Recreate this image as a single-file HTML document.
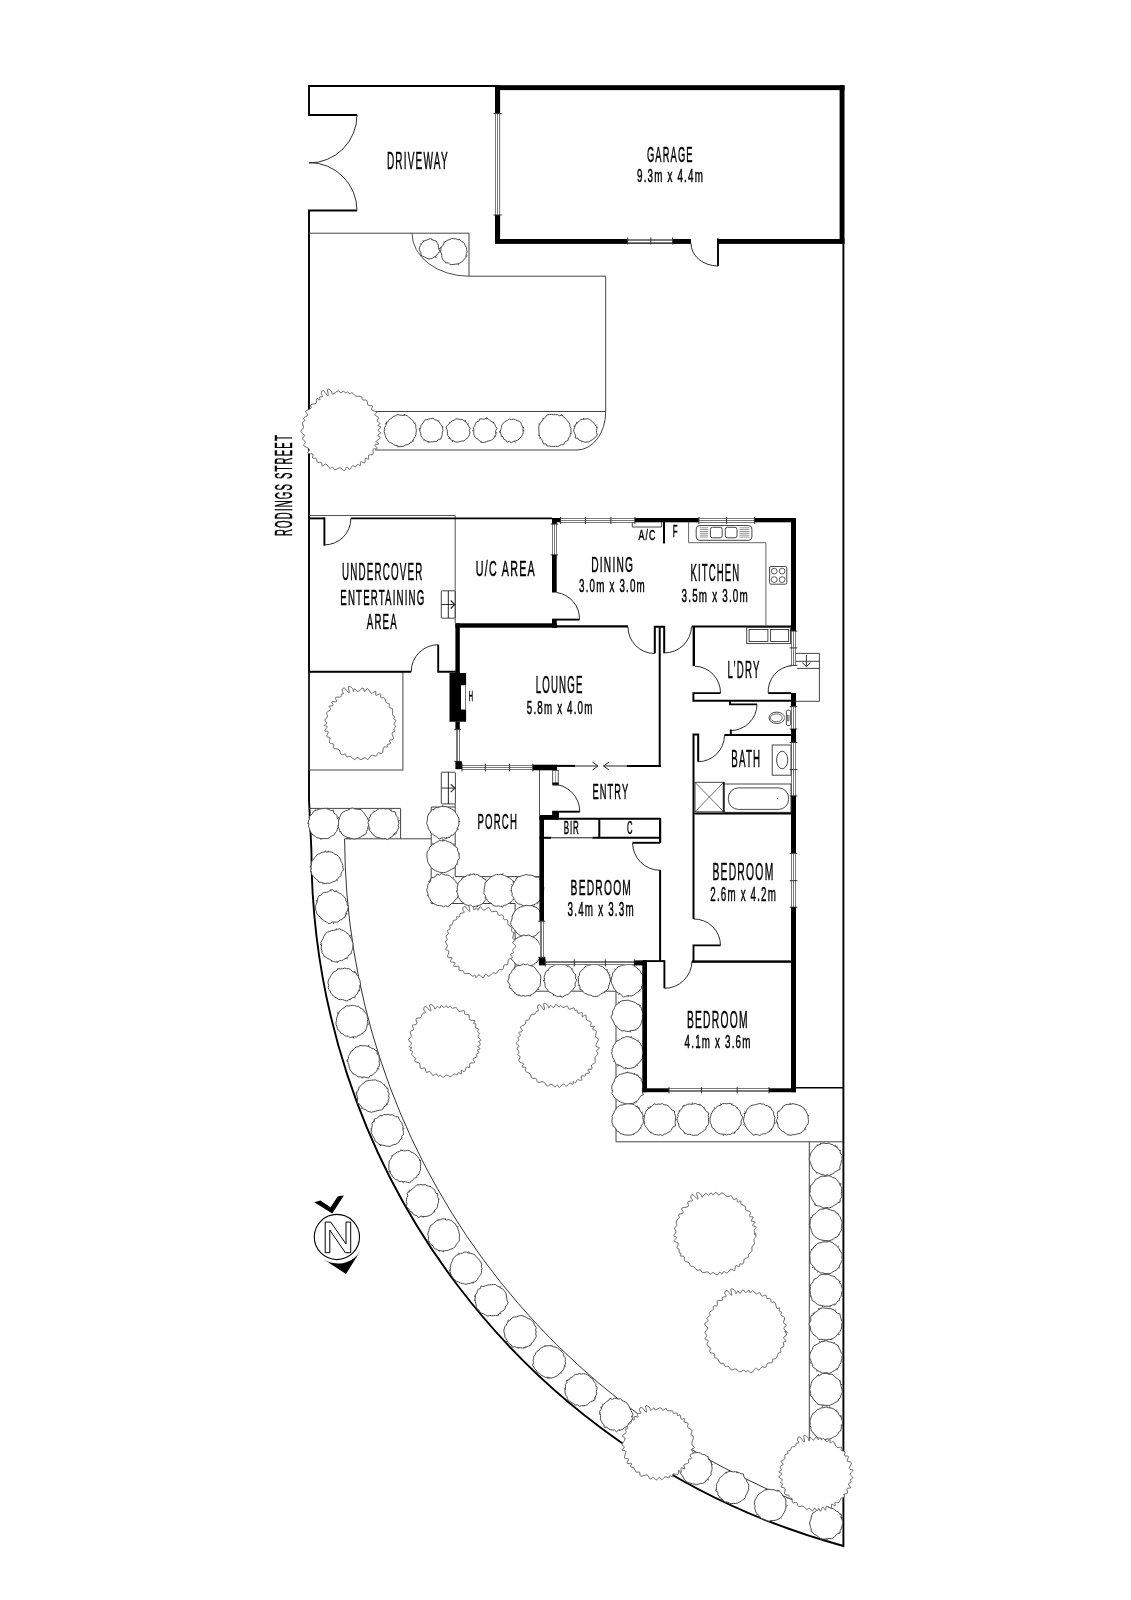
<!DOCTYPE html>
<html><head><meta charset="utf-8"><style>
html,body{margin:0;padding:0;background:#fff;width:1131px;height:1600px;overflow:hidden}
svg{display:block;will-change:transform}
text{font-family:"Liberation Sans",sans-serif;fill:#000;stroke:#000;stroke-width:0.5px}
</style></head><body>
<svg width="1131" height="1600" viewBox="0 0 1131 1600">
<rect width="1131" height="1600" fill="#fff"/>
<line x1="308.00" y1="85.90" x2="495.00" y2="85.90" stroke="#000" stroke-width="2.0" stroke-linecap="butt"/>
<path d="M309,85 L309,115 L357,115" stroke="#000" stroke-width="1.9" fill="none" />
<path d="M357,210.5 L309,210.5 L309,800 L311.4,850 A721.1,721.1 0 0 0 843.4,1546 L843.4,243" stroke="#000" stroke-width="1.9" fill="none" />
<path d="M357.00,115.00 A48.00,48.00 0 0 1 309.00,163.00" stroke="#222" stroke-width="0.95" fill="none" />
<path d="M309.00,162.50 A48.00,48.00 0 0 1 357.00,210.50" stroke="#222" stroke-width="0.95" fill="none" />
<path d="M309,233.2 L469,233.2 L469,276.2 L605.7,276.2 L605.7,412 A28.7,38 0 0 1 577,450 L375,450" stroke="#444" stroke-width="1.0" fill="none" />
<line x1="375.00" y1="411.50" x2="605.70" y2="411.50" stroke="#444" stroke-width="1.0" stroke-linecap="butt"/>
<path d="M412.00,233.20 A57.00,43.00 0 0 0 469.00,276.20" stroke="#444" stroke-width="0.95" fill="none" />
<path d="M344.6,838.8 A715.4,715.4 0 0 0 843,1518" stroke="#333" stroke-width="1.0" fill="none" />
<rect x="309.00" y="671.70" width="93.90" height="98.30" fill="none" stroke="#444" stroke-width="1.0" rx="0"/>
<path d="M309,808.4 L400.6,808.4 L400.6,838.8 L344.6,838.8" stroke="#444" stroke-width="1.0" fill="none" />
<line x1="400.60" y1="838.80" x2="431.20" y2="838.80" stroke="#444" stroke-width="1.0" stroke-linecap="butt"/>
<path d="M431.2,807 L455.2,807" stroke="#444" stroke-width="1.0" fill="none" />
<path d="M431.2,807 L431.2,903.5 L515.1,903.5 L515.1,991.2 L616,991.2 L616,1141.8 L843,1141.8" stroke="#444" stroke-width="1.0" fill="none" />
<path d="M455.2,803.8 L455.2,876.6 L539.5,876.6" stroke="#444" stroke-width="1.0" fill="none" />
<line x1="795.00" y1="1087.80" x2="843.50" y2="1087.80" stroke="#000" stroke-width="1.6" stroke-linecap="butt"/>
<line x1="809.30" y1="1141.80" x2="809.30" y2="1460.00" stroke="#444" stroke-width="1.0" stroke-linecap="butt"/>
<line x1="309.00" y1="515.50" x2="455.20" y2="515.50" stroke="#555" stroke-width="1.0" stroke-linecap="butt"/>
<line x1="455.20" y1="515.50" x2="455.20" y2="623.00" stroke="#555" stroke-width="1.0" stroke-linecap="butt"/>
<line x1="539.50" y1="770.00" x2="539.50" y2="815.00" stroke="#555" stroke-width="1.0" stroke-linecap="butt"/>
<path d="M439.0,249.2 L439.7,251.4 L438.2,253.2 L437.1,254.9 L435.5,256.2 L433.9,257.4 L432.2,258.3 L430.2,258.8 L428.2,258.9 L426.4,258.0 L424.7,257.0 L422.7,256.4 L421.0,255.1 L420.9,252.9 L420.1,251.1 L419.2,249.2 L419.5,247.1 L420.7,245.4 L421.5,243.6 L423.0,242.3 L424.3,240.7 L426.3,240.2 L428.2,239.4 L430.3,238.5 L432.3,239.7 L434.2,240.5 L436.5,241.1 L437.2,243.4 L438.4,245.1 L438.4,247.2Z M438.5,248.9 L440.0,248.4 M434.9,256.6 L435.9,257.7 M424.1,241.4 L422.8,240.5 M421.2,244.4 L420.0,243.6 M432.0,240.3 L431.9,238.7 M435.1,256.4 L436.0,257.6" stroke="#4a4a4a" stroke-width="1.0" fill="#fff" />
<path d="M467.1,251.6 L466.4,253.6 L466.1,255.6 L465.8,257.6 L464.3,259.2 L463.1,260.8 L461.4,262.0 L459.8,263.1 L457.9,263.9 L455.9,264.1 L453.9,264.4 L451.8,264.6 L449.8,264.2 L448.2,262.8 L445.7,263.0 L444.4,261.1 L442.8,259.7 L441.9,257.7 L441.8,255.5 L441.4,253.6 L440.6,251.6 L440.9,249.5 L440.7,247.3 L442.7,245.9 L443.5,244.0 L444.4,242.1 L446.3,241.1 L448.0,240.0 L450.0,239.6 L451.8,238.3 L453.9,238.8 L455.9,238.8 L457.8,239.7 L460.0,239.7 L461.3,241.5 L463.3,242.2 L464.6,243.8 L465.2,245.8 L466.6,247.5 L466.6,249.6Z M444.8,242.7 L443.6,241.8 M465.7,256.2 L467.4,255.9 M441.2,251.4 L439.7,252.4 M459.0,239.9 L459.7,238.7 M458.0,263.6 L458.3,265.1 M441.8,247.7 L440.3,247.6" stroke="#4a4a4a" stroke-width="1.0" fill="#fff" />
<path d="M378.2,430.5 C378.2,431.6 380.8,431.8 380.7,432.8 C380.6,433.7 377.9,434.2 377.8,435.2 C377.7,436.2 380.5,436.6 380.2,437.8 C379.9,439.0 376.5,440.2 376.2,441.4 C376.0,442.6 379.1,443.2 378.8,443.9 C378.5,444.6 375.2,443.9 374.8,444.8 C374.5,445.7 377.4,447.6 377.1,448.5 C376.7,449.4 374.1,448.1 373.2,449.3 C372.4,450.4 373.8,453.0 372.9,454.2 C372.0,455.4 369.5,454.2 368.7,455.2 C367.9,456.2 369.3,458.6 368.7,459.2 C368.0,459.8 366.3,457.5 365.5,458.2 C364.7,458.9 365.6,462.0 364.7,462.8 C363.7,463.5 361.6,461.2 360.7,461.8 C359.9,462.3 361.0,465.0 360.4,465.5 C359.8,466.1 358.7,464.1 357.7,464.5 C356.6,464.8 356.1,466.8 355.1,467.1 C354.1,467.3 353.8,465.1 352.7,465.6 C351.6,466.1 350.8,469.3 349.7,469.5 C348.5,469.8 348.1,466.6 347.0,466.8 C345.9,467.0 345.5,470.4 344.2,470.6 C342.8,470.8 342.0,468.0 340.2,467.8 C338.3,467.7 336.4,469.8 334.9,469.7 C333.4,469.6 333.9,467.7 332.8,467.3 C331.8,467.0 331.1,468.8 329.7,468.1 C328.3,467.4 327.4,464.4 325.9,464.0 C324.4,463.6 323.2,466.4 322.3,466.1 C321.4,465.8 322.4,463.3 321.4,462.5 C320.5,461.7 318.5,463.0 317.5,462.2 C316.4,461.4 317.2,459.4 316.2,458.5 C315.2,457.7 313.2,458.8 312.6,458.0 C311.9,457.1 313.8,455.2 312.9,454.2 C311.9,453.3 308.6,454.3 307.9,453.3 C307.2,452.3 310.0,450.7 309.2,449.1 C308.4,447.6 304.6,446.9 303.8,445.5 C303.0,444.1 305.5,443.7 305.2,442.3 C305.0,440.9 302.6,439.7 302.5,438.4 C302.3,437.0 304.9,436.9 304.5,435.5 C304.2,434.2 301.0,433.0 300.8,431.4 C300.6,429.8 303.2,429.3 303.5,427.5 C303.8,425.8 302.1,424.2 302.4,422.8 C302.6,421.4 304.6,421.6 304.8,420.7 C305.0,419.7 302.9,419.2 303.5,418.1 C304.1,417.0 307.3,416.5 307.7,415.1 C308.1,413.7 305.0,412.5 305.7,411.1 C306.3,409.8 309.9,409.6 310.9,408.3 C312.0,407.0 309.8,405.8 310.9,404.8 C311.9,403.7 315.0,404.4 316.1,403.2 C317.3,401.9 316.0,399.3 316.8,398.6 C317.5,398.0 319.4,400.3 319.9,399.9 C320.5,399.6 319.0,397.6 319.5,397.0 C320.0,396.3 322.2,397.3 322.6,396.7 C322.9,396.1 321.6,395.0 321.4,393.9 C321.2,392.9 321.3,392.1 321.8,391.4 C322.2,390.8 323.0,390.6 323.7,390.8 C324.4,391.1 324.4,391.7 325.3,392.7 C326.1,393.7 327.5,395.8 328.0,395.8 C328.5,395.8 328.1,394.1 328.0,392.8 C327.9,391.6 327.2,390.4 327.4,389.7 C327.7,389.0 328.4,389.1 329.3,389.4 C330.1,389.7 331.0,390.5 331.6,391.4 C332.3,392.4 331.3,394.3 332.6,394.2 C333.9,394.1 336.5,391.2 338.1,390.9 C339.7,390.6 339.6,392.6 340.7,392.7 C341.8,392.8 342.5,391.3 343.6,391.3 C344.6,391.4 345.0,393.1 345.8,393.2 C346.7,393.3 347.1,391.6 347.9,391.7 C348.6,391.9 348.8,393.6 349.6,393.8 C350.5,394.0 350.9,392.3 352.1,392.8 C353.3,393.2 353.9,395.2 355.7,396.0 C357.6,396.8 360.1,395.9 361.4,396.7 C362.8,397.4 361.3,399.1 362.4,399.8 C363.5,400.6 365.7,399.4 366.8,400.5 C367.9,401.5 366.9,404.0 368.1,405.1 C369.2,406.2 371.6,404.9 372.4,405.8 C373.1,406.8 371.0,408.5 371.8,409.8 C372.6,411.0 375.7,411.1 376.4,412.1 C377.0,413.2 374.6,414.0 375.0,415.1 C375.5,416.2 378.1,416.5 378.5,417.6 C378.9,418.8 376.9,419.5 377.2,420.7 C377.5,421.9 379.8,422.6 379.9,423.6 C380.0,424.5 377.7,424.7 377.9,425.4 C378.0,426.1 380.6,426.0 380.6,427.0 C380.7,428.1 378.2,429.4 378.2,430.5Z" stroke="#555" stroke-width="0.9" fill="#fff" />
<path d="M416.4,430.5 L416.1,432.5 L415.9,434.5 L415.2,436.4 L414.2,438.2 L413.3,439.9 L412.3,441.8 L410.2,442.5 L408.9,444.2 L406.9,444.7 L404.9,445.1 L403.2,446.4 L401.1,446.6 L399.0,446.7 L397.2,445.5 L395.1,445.4 L393.4,444.3 L391.7,443.3 L389.8,442.4 L388.2,441.0 L387.0,439.4 L385.9,437.6 L385.3,435.6 L384.7,433.6 L384.1,431.6 L384.6,429.5 L384.6,427.4 L385.8,425.6 L386.1,423.5 L387.6,422.1 L388.6,420.3 L390.2,419.1 L391.9,418.0 L393.2,416.4 L395.2,416.0 L397.0,414.6 L399.1,414.9 L401.1,415.2 L403.0,415.4 L405.2,414.9 L407.2,415.7 L408.7,417.1 L410.2,418.5 L411.8,419.7 L413.2,421.1 L413.9,423.0 L415.7,424.4 L415.7,426.5 L416.0,428.5Z M404.6,415.5 L404.1,413.9 M397.8,445.8 L398.0,447.3 M386.7,423.6 L385.2,423.4 M412.5,440.4 L413.7,441.3 M386.8,423.5 L386.1,421.6 M414.6,423.8 L415.6,422.6" stroke="#4a4a4a" stroke-width="1.0" fill="#fff" />
<path d="M443.1,430.5 L442.2,432.5 L442.3,434.6 L441.5,436.6 L441.0,439.0 L438.4,439.4 L437.1,441.2 L434.8,441.4 L432.8,441.8 L430.8,441.9 L428.7,441.9 L426.8,441.1 L424.8,440.4 L423.4,438.8 L421.8,437.4 L420.8,435.6 L420.8,433.4 L420.0,431.5 L419.6,429.4 L420.7,427.6 L420.9,425.5 L422.3,424.0 L423.5,422.3 L424.5,420.2 L426.7,419.7 L428.7,419.1 L430.8,418.7 L433.0,418.2 L434.8,419.7 L436.8,420.2 L438.7,421.3 L439.8,423.1 L441.0,424.7 L442.3,426.4 L442.5,428.5Z M441.8,426.8 L443.4,426.9 M420.4,428.6 L418.9,428.1 M437.8,421.5 L439.2,420.7 M420.3,429.0 L418.8,429.3 M428.5,441.2 L428.2,442.7 M424.5,439.3 L423.8,440.6" stroke="#4a4a4a" stroke-width="1.0" fill="#fff" />
<path d="M469.3,430.5 L469.9,432.6 L469.5,434.7 L468.4,436.5 L467.4,438.3 L465.5,439.4 L464.0,441.0 L461.8,441.0 L459.9,441.6 L457.9,442.0 L455.8,442.0 L453.9,441.1 L451.9,440.4 L450.2,439.1 L449.4,437.0 L447.7,435.6 L447.5,433.5 L447.4,431.5 L447.0,429.5 L446.0,427.1 L447.5,425.3 L449.1,423.8 L450.5,422.3 L452.1,420.9 L454.0,420.3 L455.8,418.9 L457.9,418.9 L459.9,419.5 L462.1,419.3 L463.7,420.7 L465.6,421.5 L466.7,423.3 L467.8,424.9 L468.9,426.5 L470.1,428.4Z M453.0,440.2 L452.5,441.6 M450.3,422.9 L449.0,422.1 M449.6,437.3 L449.0,438.9 M467.6,424.3 L469.0,423.6 M452.6,440.0 L452.3,441.5 M465.1,421.7 L465.4,420.0" stroke="#4a4a4a" stroke-width="1.0" fill="#fff" />
<path d="M495.8,430.5 L495.5,432.4 L496.0,434.7 L494.6,436.3 L493.8,438.3 L492.2,439.7 L490.3,440.7 L488.2,441.0 L486.3,441.8 L484.3,442.4 L482.1,442.4 L480.1,441.4 L478.6,439.8 L477.0,438.7 L475.2,437.5 L474.2,435.6 L473.8,433.5 L473.7,431.5 L473.9,429.5 L473.3,427.3 L474.9,425.8 L475.3,423.6 L476.6,421.9 L478.7,421.3 L479.8,418.8 L482.2,419.0 L484.3,419.1 L486.5,417.8 L488.5,419.1 L490.1,420.7 L491.9,421.6 L493.5,422.9 L494.9,424.5 L495.5,426.5 L497.0,428.3Z M480.9,440.9 L481.1,442.5 M486.2,419.5 L486.2,418.0 M493.2,423.2 L493.9,421.8 M495.7,432.8 L497.2,432.8 M494.5,436.0 L496.1,436.2 M473.7,430.1 L472.2,431.0" stroke="#4a4a4a" stroke-width="1.0" fill="#fff" />
<path d="M522.9,430.5 L523.3,432.6 L522.5,434.5 L521.6,436.3 L520.3,437.9 L518.9,439.3 L517.2,440.4 L515.3,441.0 L513.4,441.4 L511.3,442.8 L509.4,441.2 L507.0,442.1 L505.7,440.0 L503.7,439.1 L503.1,436.9 L501.2,435.7 L500.9,433.5 L500.1,431.6 L500.8,429.5 L501.4,427.6 L501.8,425.6 L502.6,423.7 L504.3,422.5 L505.6,421.0 L507.6,420.4 L509.3,419.0 L511.4,419.6 L513.4,419.1 L515.4,419.6 L517.2,420.7 L519.3,421.2 L520.8,422.7 L521.5,424.7 L522.6,426.5 L523.1,428.5Z M522.7,428.1 L524.0,427.1 M500.8,430.8 L499.4,431.7 M500.9,431.9 L499.5,432.5 M523.0,430.3 L524.5,430.8 M514.5,441.3 L515.6,442.5 M502.4,436.2 L500.8,436.4" stroke="#4a4a4a" stroke-width="1.0" fill="#fff" />
<path d="M571.0,430.5 L571.0,432.6 L570.3,434.5 L570.0,436.6 L568.3,438.0 L568.1,440.3 L566.1,441.3 L564.5,442.5 L563.6,444.7 L561.3,444.7 L559.5,445.4 L557.7,446.7 L555.6,446.2 L553.6,446.5 L551.5,446.6 L549.6,446.0 L547.3,446.1 L546.0,444.1 L543.5,443.9 L542.6,441.7 L542.0,439.6 L540.5,438.2 L539.6,436.4 L539.2,434.4 L539.0,432.5 L539.0,430.5 L538.7,428.5 L538.8,426.5 L539.3,424.4 L540.6,422.8 L541.8,421.2 L542.9,419.5 L544.3,418.0 L545.9,416.8 L547.2,414.9 L549.4,414.5 L551.5,414.4 L553.6,414.7 L555.6,414.7 L557.7,414.5 L559.4,415.7 L562.0,414.8 L563.3,416.8 L565.1,417.8 L566.4,419.4 L567.6,421.0 L568.9,422.7 L569.7,424.5 L570.0,426.6 L570.9,428.4Z M559.9,415.7 L561.7,414.8 M540.3,424.1 L538.7,424.0 M539.6,435.1 L538.1,435.3 M543.5,419.4 L542.8,418.0 M570.1,433.2 L571.5,433.6 M540.4,437.2 L539.5,438.8" stroke="#4a4a4a" stroke-width="1.0" fill="#fff" />
<path d="M596.6,430.5 L596.5,432.5 L597.5,435.0 L595.7,436.5 L594.5,438.3 L592.7,439.5 L591.0,440.5 L589.2,441.7 L587.2,442.0 L585.1,442.2 L583.1,441.6 L581.2,440.9 L579.2,440.2 L578.0,438.4 L575.3,438.0 L575.6,435.3 L574.7,433.5 L573.8,431.6 L573.9,429.4 L574.6,427.5 L575.3,425.5 L576.2,423.6 L578.0,422.5 L579.3,421.0 L581.0,419.6 L583.0,419.1 L585.1,419.0 L587.2,418.7 L589.3,419.3 L591.0,420.4 L592.5,421.8 L593.9,423.3 L595.1,424.8 L596.4,426.4 L597.0,428.4Z M582.5,441.2 L581.5,442.4 M583.6,419.6 L583.7,418.0 M595.6,425.6 L596.7,424.5 M596.3,427.7 L597.7,427.1 M575.4,426.0 L573.7,426.3 M577.0,423.5 L576.3,422.0" stroke="#4a4a4a" stroke-width="1.0" fill="#fff" />
<path d="M394.1,724.2 C394.1,725.4 395.7,725.5 395.6,726.5 C395.5,727.5 394.0,728.0 393.8,729.0 C393.7,729.9 395.3,730.5 394.9,731.3 C394.6,732.1 392.4,731.6 392.1,733.1 C391.8,734.6 393.9,737.3 393.4,738.8 C392.9,740.2 390.0,739.5 389.4,740.4 C388.9,741.3 391.0,742.6 390.6,743.4 C390.2,744.2 387.9,743.9 387.3,744.6 C386.6,745.3 388.1,746.4 387.4,747.0 C386.7,747.5 384.8,746.2 383.7,747.4 C382.7,748.7 383.2,752.1 382.0,753.2 C380.9,754.3 379.2,752.3 378.1,752.9 C376.9,753.4 377.5,755.4 376.1,756.0 C374.7,756.5 372.9,754.8 371.2,755.5 C369.6,756.2 369.1,759.0 367.8,759.5 C366.6,759.9 366.4,757.7 365.1,757.7 C363.7,757.7 362.4,759.6 360.9,759.5 C359.3,759.5 358.6,757.4 357.4,757.4 C356.1,757.4 355.8,759.7 354.5,759.6 C353.1,759.4 352.3,757.2 350.6,756.6 C349.0,756.1 347.4,757.2 346.3,756.7 C345.3,756.1 346.4,754.4 345.4,754.0 C344.4,753.6 342.5,755.4 341.3,754.6 C340.0,753.8 340.6,751.2 339.1,749.9 C337.5,748.5 334.6,749.2 333.5,748.1 C332.4,747.0 334.4,745.4 333.7,744.3 C332.9,743.2 330.4,744.0 329.6,742.7 C328.8,741.4 330.3,739.1 329.8,737.9 C329.2,736.7 327.1,737.7 326.7,736.5 C326.4,735.3 328.6,732.9 328.2,731.7 C327.7,730.6 324.9,731.7 324.7,730.8 C324.5,729.8 327.2,727.9 327.2,726.8 C327.1,725.7 324.4,726.1 324.3,725.3 C324.3,724.5 326.8,724.0 326.9,723.0 C327.0,721.9 324.7,721.2 324.8,720.0 C324.8,718.8 327.0,718.3 327.4,716.9 C327.8,715.4 326.1,714.1 326.8,712.6 C327.4,711.1 330.1,710.6 330.6,709.3 C331.1,708.0 328.6,707.1 329.1,706.3 C329.6,705.5 332.5,706.4 333.0,705.5 C333.6,704.6 331.3,702.6 332.0,701.8 C332.7,701.0 335.7,702.4 336.5,701.5 C337.2,700.7 334.8,698.5 335.6,697.6 C336.5,696.6 339.4,697.6 340.6,696.9 C341.8,696.2 341.1,694.6 341.6,694.0 C342.2,693.4 343.4,694.5 343.5,693.9 C343.7,693.4 342.5,692.2 342.3,691.2 C342.2,690.1 342.2,689.3 342.7,688.7 C343.1,688.1 343.9,687.8 344.6,688.1 C345.3,688.3 345.3,689.0 346.2,689.9 C347.1,690.9 348.4,693.0 348.9,693.0 C349.5,693.0 349.0,691.3 348.9,690.0 C348.8,688.8 348.1,687.6 348.3,686.9 C348.6,686.2 349.3,686.3 350.2,686.6 C351.0,686.9 351.9,687.6 352.6,688.6 C353.2,689.6 353.2,691.4 353.6,691.5 C354.0,691.5 353.7,688.9 354.6,688.9 C355.5,688.9 356.4,691.5 358.0,691.4 C359.7,691.2 361.5,688.0 362.9,688.0 C364.2,688.1 363.8,691.5 364.7,691.7 C365.7,691.8 366.2,688.2 367.5,688.6 C368.9,688.9 369.8,692.8 371.4,693.3 C373.0,693.8 374.8,690.8 375.7,691.2 C376.6,691.6 374.9,694.7 375.9,695.3 C376.8,695.8 379.4,693.4 380.4,693.9 C381.4,694.4 380.1,696.8 380.9,697.6 C381.7,698.5 383.3,697.0 384.4,698.0 C385.5,699.0 385.4,701.5 386.4,702.7 C387.3,703.9 388.6,702.9 389.3,703.8 C389.9,704.8 388.8,706.5 389.4,707.5 C390.1,708.5 391.8,707.3 392.4,708.8 C393.1,710.3 392.2,713.3 392.7,714.9 C393.3,716.5 394.8,716.1 395.0,716.9 C395.1,717.6 393.3,718.0 393.5,718.7 C393.6,719.4 395.5,719.2 395.7,720.3 C395.8,721.4 394.1,723.0 394.1,724.2Z" stroke="#555" stroke-width="0.9" fill="#fff" />
<path d="M339.3,823.6 L338.2,825.6 L338.0,827.5 L337.3,829.4 L336.7,831.4 L335.3,832.8 L334.4,834.8 L332.5,835.6 L330.7,836.5 L329.1,837.9 L327.2,838.7 L325.1,838.5 L323.1,838.7 L321.1,838.7 L319.1,838.1 L317.0,837.8 L315.4,836.4 L313.7,835.4 L312.0,834.1 L310.9,832.3 L309.8,830.6 L309.5,828.5 L308.5,826.7 L308.9,824.6 L308.4,822.6 L308.7,820.6 L309.5,818.7 L309.6,816.5 L311.1,815.0 L312.4,813.5 L313.5,811.7 L315.2,810.5 L317.2,809.9 L319.1,809.1 L321.1,808.8 L323.1,808.7 L325.2,808.2 L327.1,808.8 L329.1,809.3 L330.7,810.7 L333.5,810.2 L333.8,813.0 L335.5,814.2 L337.1,815.6 L337.2,817.8 L338.4,819.5 L338.9,821.5Z M310.6,830.8 L309.3,831.6 M327.8,809.3 L327.7,807.7 M308.7,823.2 L307.2,823.2 M321.7,838.4 L320.6,839.7 M309.8,817.9 L308.3,817.8 M315.5,811.1 L315.3,809.5" stroke="#4a4a4a" stroke-width="1.0" fill="#fff" />
<path d="M369.1,823.6 L368.5,825.6 L367.6,827.5 L367.9,829.7 L366.4,831.3 L366.2,833.7 L364.2,834.7 L362.4,835.8 L360.7,836.9 L359.0,838.1 L356.9,838.4 L355.0,839.1 L352.9,838.7 L350.9,838.4 L349.0,837.7 L347.0,837.4 L345.3,836.4 L343.4,835.5 L341.8,834.1 L341.1,832.1 L339.7,830.5 L339.0,828.6 L338.2,826.7 L338.5,824.6 L338.6,822.6 L338.6,820.6 L339.3,818.7 L339.9,816.8 L340.8,814.9 L341.8,813.1 L343.5,811.9 L345.3,810.9 L347.2,810.3 L349.0,809.5 L350.8,808.3 L352.9,808.0 L354.9,809.0 L356.9,809.1 L358.8,809.5 L361.1,809.6 L362.4,811.4 L363.9,812.7 L364.9,814.5 L366.1,816.1 L367.3,817.7 L367.9,819.6 L368.9,821.5Z M362.9,835.1 L364.3,835.9 M349.4,837.9 L350.1,839.7 M340.9,831.8 L339.1,831.7 M348.2,837.6 L346.6,838.5 M339.3,818.8 L338.3,817.2 M348.0,837.5 L347.0,838.7" stroke="#4a4a4a" stroke-width="1.0" fill="#fff" />
<path d="M398.9,823.6 L398.1,825.6 L398.7,827.7 L397.7,829.6 L397.0,831.5 L395.2,832.8 L393.9,834.2 L392.8,836.1 L391.1,837.3 L389.3,838.3 L387.4,839.6 L385.1,838.5 L383.1,838.7 L381.1,838.6 L379.2,837.7 L377.2,837.4 L375.2,836.7 L373.9,835.1 L372.2,833.9 L371.2,832.1 L369.8,830.5 L369.6,828.4 L368.9,826.6 L368.6,824.6 L367.9,822.6 L369.2,820.7 L368.9,818.5 L370.1,816.8 L370.7,814.8 L372.2,813.3 L373.7,811.8 L375.7,811.1 L377.2,809.8 L379.0,808.6 L381.1,808.8 L383.1,808.3 L385.1,809.0 L387.1,808.7 L389.2,809.0 L390.8,810.5 L392.5,811.6 L395.1,811.7 L395.7,814.1 L396.4,816.0 L397.9,817.5 L398.0,819.7 L398.4,821.6Z M395.1,833.0 L397.0,833.0 M398.3,821.4 L399.7,820.4 M393.8,834.5 L395.6,834.8 M369.3,827.6 L368.0,828.5 M391.1,810.7 L391.0,808.9 M374.3,811.9 L373.6,810.6" stroke="#4a4a4a" stroke-width="1.0" fill="#fff" />
<path d="M458.9,822.2 L458.9,824.2 L458.4,826.2 L457.4,828.0 L457.0,830.1 L455.9,831.8 L454.5,833.3 L453.2,835.0 L451.0,835.4 L449.7,837.4 L447.6,837.8 L445.6,838.4 L443.5,837.6 L441.5,838.1 L439.1,839.1 L437.4,837.5 L435.7,836.2 L433.9,835.2 L432.4,833.9 L430.7,832.7 L430.1,830.6 L428.4,829.2 L428.2,827.1 L427.4,825.2 L426.6,823.3 L427.1,821.2 L427.5,819.2 L427.4,817.0 L428.3,815.1 L429.0,813.1 L430.8,811.9 L431.7,809.8 L434.2,809.5 L435.4,807.6 L437.6,807.5 L439.5,807.1 L441.5,806.3 L443.5,806.7 L445.5,806.5 L447.5,807.1 L449.3,807.9 L451.1,808.8 L452.9,809.8 L454.7,810.9 L455.5,812.9 L457.0,814.3 L457.8,816.2 L458.9,818.0 L459.0,820.1Z M442.0,806.6 L443.1,805.1 M448.6,836.7 L449.6,838.0 M457.0,829.1 L458.6,829.2 M446.5,837.4 L445.8,839.1 M458.6,821.6 L460.1,821.5 M446.3,837.5 L447.0,838.8" stroke="#4a4a4a" stroke-width="1.0" fill="#fff" />
<path d="M459.2,856.3 L459.3,858.4 L457.9,860.2 L457.6,862.2 L456.9,864.1 L455.6,865.7 L454.8,867.7 L452.8,868.6 L451.0,869.5 L449.3,870.5 L447.4,871.3 L445.6,872.4 L443.5,872.7 L441.4,872.5 L439.4,872.2 L437.4,871.4 L435.5,870.7 L433.7,869.6 L432.0,868.4 L430.6,866.9 L429.6,865.0 L428.5,863.3 L427.6,861.4 L427.4,859.3 L426.9,857.3 L426.9,855.3 L427.0,853.2 L427.5,851.2 L429.1,849.6 L429.4,847.4 L431.1,846.2 L432.3,844.6 L434.1,843.6 L435.8,842.5 L437.6,841.7 L439.4,840.6 L441.5,840.8 L443.5,840.9 L445.6,840.4 L447.4,841.5 L449.3,842.0 L451.3,842.6 L452.6,844.3 L454.1,845.6 L455.7,846.8 L457.6,848.1 L457.3,850.5 L458.6,852.2 L459.0,854.2Z M442.6,840.7 L442.7,839.2 M443.1,840.7 L444.0,839.2 M453.9,845.2 L454.0,843.2 M458.4,853.9 L459.9,854.0 M456.8,863.6 L457.9,864.6 M433.5,844.0 L432.2,843.0" stroke="#4a4a4a" stroke-width="1.0" fill="#fff" />
<path d="M459.2,890.4 L459.2,892.5 L458.4,894.4 L458.0,896.5 L457.1,898.4 L455.4,899.6 L454.2,901.2 L453.0,902.9 L451.1,903.8 L449.7,905.4 L447.8,906.6 L445.5,905.6 L443.5,906.8 L441.5,905.9 L439.5,905.5 L437.5,905.4 L435.7,904.5 L433.7,903.7 L432.2,902.3 L430.7,900.9 L430.0,898.8 L428.9,897.2 L428.1,895.3 L427.9,893.3 L427.2,891.4 L426.7,889.4 L427.7,887.4 L427.6,885.3 L428.7,883.5 L429.9,881.9 L430.6,879.8 L431.3,877.6 L433.9,877.3 L435.6,876.2 L437.0,874.1 L439.5,875.0 L441.4,873.4 L443.5,874.4 L445.5,875.2 L447.6,874.9 L449.5,875.7 L451.0,877.2 L452.6,878.3 L454.1,879.6 L455.7,881.0 L456.4,882.8 L457.9,884.4 L458.2,886.4 L459.3,888.3Z M429.4,882.8 L428.7,881.0 M430.5,881.1 L428.8,880.8 M458.3,893.7 L459.7,894.0 M452.8,878.3 L453.6,876.9 M428.1,895.0 L426.8,895.8 M431.2,880.2 L429.8,879.6" stroke="#4a4a4a" stroke-width="1.0" fill="#fff" />
<path d="M489.5,890.4 L489.0,892.4 L488.1,894.3 L488.3,896.5 L487.3,898.4 L485.8,899.9 L484.3,901.2 L483.3,903.2 L481.5,904.3 L479.7,905.2 L477.7,905.9 L475.7,906.2 L473.6,906.6 L471.5,906.5 L469.6,905.7 L467.7,905.2 L465.6,904.8 L463.8,903.7 L462.5,902.1 L460.7,901.0 L459.7,899.1 L458.3,897.5 L458.1,895.4 L457.5,893.4 L456.7,891.5 L457.4,889.4 L457.1,887.3 L457.8,885.3 L458.2,883.2 L459.4,881.5 L461.1,880.2 L462.1,878.2 L463.8,877.1 L465.8,876.4 L467.5,875.2 L469.6,875.2 L471.6,874.4 L473.6,874.0 L475.6,874.9 L477.9,874.3 L479.4,876.2 L481.5,876.5 L482.7,878.3 L484.9,879.0 L486.1,880.7 L486.8,882.7 L488.1,884.3 L488.1,886.5 L488.7,888.4Z M487.3,896.8 L488.2,898.5 M464.2,903.2 L462.4,903.7 M477.5,905.4 L477.4,907.0 M469.5,875.2 L470.1,873.6 M457.5,890.7 L456.0,891.4 M474.7,874.9 L473.8,873.3" stroke="#4a4a4a" stroke-width="1.0" fill="#fff" />
<path d="M515.9,890.4 L516.3,892.5 L515.0,894.3 L514.4,896.2 L514.3,898.4 L512.8,899.9 L511.3,901.3 L510.0,902.9 L508.0,903.6 L506.5,905.1 L504.4,905.2 L502.6,906.6 L500.5,906.4 L498.5,905.7 L496.3,906.4 L494.4,905.7 L492.5,904.9 L491.1,903.1 L489.0,902.5 L487.8,900.8 L486.6,899.1 L485.2,897.5 L485.3,895.3 L483.9,893.5 L484.1,891.4 L484.1,889.4 L484.4,887.4 L485.0,885.4 L484.8,883.1 L486.4,881.5 L487.8,880.0 L489.3,878.6 L490.6,876.9 L492.5,876.1 L494.5,875.4 L496.3,874.4 L498.5,874.8 L500.5,874.4 L502.5,874.7 L504.5,875.4 L506.2,876.3 L508.0,877.2 L509.7,878.2 L511.3,879.4 L512.9,880.8 L513.4,882.8 L514.8,884.4 L515.3,886.4 L516.2,888.3Z M501.1,906.0 L502.6,907.3 M515.0,886.1 L516.2,885.0 M485.9,897.1 L485.0,898.7 M502.0,874.9 L503.3,873.6 M502.2,875.0 L502.3,873.5 M515.5,888.6 L517.0,888.7" stroke="#4a4a4a" stroke-width="1.0" fill="#fff" />
<path d="M543.6,890.4 L543.1,892.4 L543.5,894.6 L542.6,896.5 L541.4,898.2 L539.9,899.6 L539.2,901.6 L537.2,902.5 L535.7,903.8 L534.0,904.8 L532.1,905.4 L530.2,906.4 L528.1,906.7 L526.0,906.6 L524.0,906.2 L522.2,905.1 L520.3,904.3 L518.2,903.9 L516.6,902.6 L515.4,900.8 L514.0,899.3 L513.5,897.2 L512.0,895.6 L512.2,893.4 L511.5,891.4 L511.2,889.3 L511.5,887.3 L512.6,885.4 L513.6,883.6 L514.2,881.7 L515.8,880.3 L516.3,878.0 L518.2,876.9 L520.3,876.4 L522.2,875.7 L524.1,875.2 L526.1,874.5 L528.1,875.0 L530.1,875.1 L532.1,875.4 L533.9,876.2 L535.6,877.2 L538.3,877.0 L539.8,878.6 L540.3,880.9 L541.9,882.4 L542.0,884.6 L543.3,886.3 L543.7,888.3Z M543.1,888.6 L544.5,887.9 M514.4,882.1 L513.1,881.4 M512.0,890.2 L510.5,890.8 M512.7,885.7 L511.7,884.2 M524.9,905.8 L524.0,907.1 M537.4,902.6 L538.0,904.0" stroke="#4a4a4a" stroke-width="1.0" fill="#fff" />
<path d="M543.3,921.2 L543.8,923.3 L542.5,925.1 L543.5,927.6 L542.2,929.4 L540.4,930.8 L539.0,932.2 L537.6,933.8 L536.1,935.2 L534.2,936.1 L532.2,936.8 L530.1,936.9 L528.1,937.3 L526.0,937.4 L524.0,936.9 L522.2,935.9 L520.0,935.8 L518.5,934.2 L516.9,933.0 L515.7,931.3 L514.6,929.7 L513.2,928.1 L512.0,926.4 L510.7,924.5 L510.7,922.3 L511.7,920.2 L512.1,918.2 L512.1,916.1 L513.2,914.3 L514.2,912.5 L515.3,910.7 L516.8,909.3 L518.5,908.1 L520.3,907.1 L522.2,906.5 L524.1,905.9 L526.1,905.2 L528.1,905.6 L530.1,905.7 L532.2,905.7 L534.0,906.7 L536.1,907.2 L537.7,908.6 L539.3,909.9 L540.0,911.9 L541.7,913.3 L542.7,915.1 L542.5,917.3 L543.1,919.2Z M523.2,936.2 L523.6,937.8 M523.0,936.1 L521.7,937.3 M539.7,931.1 L540.5,932.4 M541.2,928.9 L542.9,928.8 M533.6,906.8 L535.0,905.8 M531.4,906.1 L532.1,904.7" stroke="#4a4a4a" stroke-width="1.0" fill="#fff" />
<path d="M541.9,951.2 L540.8,953.2 L541.0,955.3 L541.2,957.6 L539.4,959.0 L537.9,960.5 L537.0,962.4 L535.1,963.3 L533.6,964.6 L531.7,965.3 L529.9,966.2 L528.0,966.5 L526.0,967.1 L523.9,967.4 L522.0,966.7 L520.2,965.6 L518.0,965.5 L516.2,964.5 L514.9,962.9 L513.6,961.3 L512.0,960.0 L510.9,958.2 L510.1,956.3 L510.0,954.2 L510.1,952.2 L509.4,950.2 L510.2,948.2 L510.7,946.3 L511.3,944.3 L512.5,942.8 L513.3,940.8 L514.8,939.4 L516.6,938.4 L518.2,937.3 L520.2,936.7 L522.0,936.0 L523.9,935.0 L526.0,935.8 L528.1,935.0 L530.1,935.5 L531.9,936.8 L533.9,937.3 L535.5,938.7 L537.1,940.0 L538.3,941.6 L539.3,943.4 L540.1,945.3 L542.2,946.8 L541.4,949.1Z M516.2,938.7 L515.6,937.3 M522.3,966.5 L523.1,968.1 M538.4,960.0 L539.6,960.9 M525.7,966.8 L527.0,968.2 M540.0,945.4 L541.5,945.2 M512.3,942.9 L511.3,941.7" stroke="#4a4a4a" stroke-width="1.0" fill="#fff" />
<path d="M540.4,980.2 L540.6,982.2 L540.2,984.2 L539.9,986.3 L538.4,987.9 L537.4,989.6 L535.8,990.9 L534.9,992.8 L532.8,993.5 L531.4,995.1 L529.4,995.7 L527.3,995.7 L525.3,996.1 L523.3,995.5 L521.1,996.2 L519.3,995.2 L517.2,994.7 L515.5,993.5 L514.1,991.9 L512.3,990.8 L511.7,988.7 L509.2,987.7 L510.1,985.1 L508.9,983.3 L507.6,981.3 L508.6,979.2 L509.1,977.1 L509.2,975.0 L510.7,973.4 L511.6,971.6 L512.5,969.7 L514.3,968.6 L515.4,966.8 L517.2,965.7 L519.4,965.6 L521.3,965.0 L523.2,963.9 L525.3,964.9 L527.4,964.0 L529.2,965.4 L531.2,965.8 L533.2,966.3 L534.6,967.9 L536.1,969.2 L537.1,971.0 L538.5,972.5 L539.7,974.2 L540.7,976.0 L540.8,978.1Z M519.3,994.8 L518.6,996.2 M537.4,989.4 L539.2,989.4 M519.3,965.6 L518.2,964.4 M530.6,994.7 L530.0,996.5 M514.9,992.2 L514.9,994.2 M514.6,968.4 L514.2,966.8" stroke="#4a4a4a" stroke-width="1.0" fill="#fff" />
<path d="M576.9,980.2 L575.4,982.2 L575.0,984.1 L575.3,986.3 L574.0,988.0 L572.8,989.7 L571.4,991.2 L569.9,992.4 L568.6,994.2 L566.5,994.8 L564.7,995.6 L562.8,997.1 L560.6,995.9 L558.5,996.6 L556.5,996.1 L554.5,995.3 L552.9,994.1 L551.2,992.9 L549.4,992.0 L547.9,990.6 L546.9,988.8 L545.4,987.3 L545.0,985.2 L544.9,983.2 L544.0,981.2 L544.5,979.2 L544.0,977.1 L544.8,975.1 L545.3,973.1 L546.3,971.2 L548.4,970.2 L549.2,968.2 L550.8,966.9 L552.9,966.3 L554.5,965.0 L556.5,964.6 L558.6,964.6 L560.7,962.9 L562.6,964.8 L564.7,964.6 L566.5,965.6 L568.5,966.3 L570.3,967.4 L571.7,968.9 L572.8,970.7 L573.5,972.6 L575.3,974.0 L575.8,976.1 L575.4,978.2Z M554.4,994.7 L553.2,995.8 M567.3,966.4 L568.8,965.5 M561.2,964.6 L561.2,963.1 M571.4,969.5 L572.4,968.3 M560.1,995.8 L561.4,997.3 M544.5,980.1 L543.0,980.7" stroke="#4a4a4a" stroke-width="1.0" fill="#fff" />
<path d="M611.2,980.2 L609.7,982.2 L609.4,984.2 L608.7,986.1 L608.4,988.2 L607.2,990.0 L605.4,991.1 L603.9,992.4 L602.1,993.4 L600.3,994.3 L598.7,995.9 L596.7,996.4 L594.6,996.5 L592.6,996.2 L590.7,995.2 L588.7,994.9 L586.9,994.0 L584.8,993.5 L583.3,992.1 L582.2,990.3 L579.9,989.5 L580.1,987.0 L579.2,985.1 L578.3,983.3 L578.4,981.2 L578.5,979.2 L578.1,977.1 L579.4,975.3 L579.5,973.2 L580.6,971.4 L582.2,970.1 L583.6,968.6 L584.8,966.9 L586.6,965.8 L588.7,965.4 L590.7,965.1 L592.4,963.0 L594.6,964.1 L596.7,964.3 L598.6,965.2 L600.4,966.1 L602.5,966.3 L603.9,968.0 L605.3,969.4 L607.3,970.4 L607.8,972.5 L609.0,974.2 L609.7,976.1 L609.7,978.2Z M579.4,985.5 L577.9,985.8 M604.1,992.2 L605.3,993.1 M608.8,975.1 L610.4,975.1 M608.2,973.4 L609.2,972.1 M609.7,980.6 L611.2,980.4 M605.9,970.0 L607.5,969.5" stroke="#4a4a4a" stroke-width="1.0" fill="#fff" />
<path d="M642.7,980.2 L642.7,982.2 L643.5,984.5 L641.6,986.0 L641.5,988.2 L640.2,989.8 L638.8,991.3 L637.1,992.5 L635.4,993.6 L633.8,994.9 L632.0,995.9 L629.8,995.8 L627.8,995.7 L625.7,996.4 L623.4,997.1 L621.8,995.2 L620.2,993.8 L618.3,993.1 L616.5,992.1 L615.6,990.2 L614.1,988.8 L613.4,986.9 L612.6,985.1 L611.5,983.3 L611.2,981.2 L611.0,979.2 L611.6,977.1 L612.6,975.3 L612.6,973.1 L614.0,971.5 L615.2,969.9 L616.8,968.7 L617.9,966.8 L620.0,966.2 L621.9,965.6 L623.9,965.1 L625.8,964.7 L627.8,964.5 L629.9,964.2 L631.9,964.8 L633.9,965.3 L635.5,966.7 L636.9,968.2 L638.5,969.3 L640.1,970.6 L640.7,972.6 L642.3,974.1 L643.2,976.0 L643.0,978.2Z M639.6,989.8 L640.1,991.6 M615.9,969.5 L614.3,969.0 M628.4,995.8 L627.9,997.3 M611.8,978.2 L610.3,978.2 M619.8,993.9 L618.3,994.8 M611.8,978.8 L610.2,979.7" stroke="#4a4a4a" stroke-width="1.0" fill="#fff" />
<path d="M642.7,1015.9 L643.3,1017.9 L642.2,1019.7 L641.6,1021.6 L641.2,1023.6 L640.3,1025.4 L639.2,1027.1 L637.6,1028.4 L635.8,1029.5 L634.0,1030.4 L631.9,1030.4 L630.0,1031.0 L628.1,1031.7 L626.1,1031.2 L624.2,1030.6 L622.1,1031.0 L620.3,1030.0 L618.7,1028.7 L617.2,1027.4 L616.1,1025.7 L614.5,1024.4 L613.8,1022.5 L612.9,1020.8 L612.0,1018.9 L610.9,1017.0 L612.1,1014.9 L612.8,1013.0 L612.4,1010.9 L614.0,1009.4 L614.6,1007.4 L615.4,1005.5 L617.0,1004.3 L618.7,1003.1 L620.2,1001.7 L622.0,1000.8 L624.1,1000.5 L626.1,1000.4 L628.1,1000.1 L630.0,1001.0 L631.9,1001.3 L633.7,1002.0 L635.7,1002.6 L637.0,1004.1 L639.2,1004.7 L640.1,1006.6 L641.4,1008.1 L641.7,1010.2 L642.8,1011.9 L643.5,1013.8Z M635.4,1029.1 L636.0,1030.5 M619.5,1003.0 L618.1,1002.1 M637.0,1027.9 L638.1,1029.0 M639.4,1006.2 L640.8,1005.5 M642.9,1016.7 L644.4,1016.4 M630.0,1031.0 L630.9,1032.4" stroke="#4a4a4a" stroke-width="1.0" fill="#fff" />
<path d="M644.2,1052.6 L642.8,1054.6 L642.3,1056.5 L642.4,1058.6 L641.3,1060.3 L639.7,1061.6 L638.7,1063.3 L637.0,1064.4 L635.7,1066.0 L634.3,1067.6 L632.1,1067.8 L630.1,1068.3 L628.1,1068.7 L626.1,1067.7 L624.0,1068.3 L622.3,1067.0 L620.6,1066.0 L618.9,1065.1 L616.7,1064.6 L615.4,1063.0 L614.6,1061.0 L613.8,1059.2 L612.6,1057.6 L612.5,1055.5 L611.5,1053.6 L612.1,1051.6 L611.9,1049.5 L612.9,1047.7 L613.3,1045.7 L614.7,1044.2 L615.6,1042.4 L617.0,1040.9 L618.9,1040.2 L620.6,1039.2 L622.3,1038.1 L624.2,1037.6 L626.1,1036.6 L628.1,1036.7 L630.1,1037.2 L632.0,1037.9 L633.7,1038.7 L635.5,1039.5 L637.1,1040.7 L638.8,1041.8 L640.4,1043.1 L641.0,1045.1 L642.3,1046.7 L642.2,1048.8 L643.0,1050.6Z M619.2,1065.4 L617.4,1066.0 M630.2,1037.5 L631.7,1036.3 M626.3,1067.8 L625.7,1069.3 M636.5,1065.1 L637.9,1065.8 M614.4,1060.4 L613.5,1061.8 M637.6,1041.0 L638.5,1039.8" stroke="#4a4a4a" stroke-width="1.0" fill="#fff" />
<path d="M642.7,1088.3 L643.2,1090.3 L642.3,1092.1 L643.4,1094.7 L640.9,1095.8 L639.7,1097.4 L638.8,1099.1 L637.5,1100.8 L635.6,1101.6 L634.1,1103.0 L632.1,1103.5 L630.1,1103.9 L628.1,1104.2 L626.1,1104.1 L624.2,1103.3 L622.3,1102.7 L620.5,1102.0 L618.8,1100.9 L617.1,1099.8 L615.6,1098.5 L614.1,1097.1 L613.2,1095.2 L611.6,1093.6 L612.6,1091.2 L611.9,1089.3 L611.8,1087.3 L612.1,1085.3 L613.0,1083.5 L614.0,1081.8 L614.6,1079.8 L615.3,1077.9 L617.1,1076.7 L618.5,1075.3 L620.3,1074.3 L622.3,1073.9 L624.1,1073.2 L626.1,1072.9 L628.1,1072.5 L630.1,1073.1 L632.1,1073.1 L633.9,1074.2 L635.8,1074.7 L638.0,1075.3 L638.8,1077.4 L641.1,1078.2 L641.2,1080.6 L642.4,1082.3 L643.0,1084.3 L643.4,1086.3Z M641.8,1082.7 L643.6,1083.2 M636.0,1101.1 L636.3,1102.7 M636.7,1076.0 L637.6,1074.8 M633.9,1102.2 L635.4,1103.2 M626.5,1073.0 L627.7,1071.5 M634.5,1074.6 L634.5,1073.0" stroke="#4a4a4a" stroke-width="1.0" fill="#fff" />
<path d="M643.2,1119.3 L643.5,1121.4 L643.2,1123.4 L641.6,1125.0 L641.1,1126.9 L639.9,1128.5 L638.8,1130.2 L637.5,1131.8 L635.6,1132.5 L634.0,1133.8 L632.2,1134.7 L630.2,1135.1 L628.1,1135.1 L626.1,1135.0 L624.1,1134.8 L622.2,1134.0 L620.2,1133.5 L618.9,1131.8 L616.8,1131.2 L616.1,1129.1 L615.0,1127.5 L613.2,1126.2 L612.7,1124.2 L611.9,1122.4 L611.9,1120.3 L612.4,1118.3 L612.0,1116.3 L613.0,1114.4 L614.0,1112.8 L614.4,1110.7 L616.0,1109.5 L616.7,1107.3 L618.7,1106.6 L620.2,1105.1 L622.4,1105.1 L624.2,1104.5 L626.1,1104.0 L628.1,1103.8 L630.1,1103.8 L632.1,1104.1 L634.1,1104.6 L635.6,1106.1 L637.5,1106.9 L639.1,1108.2 L639.9,1110.2 L640.8,1111.9 L642.2,1113.4 L643.0,1115.3 L642.6,1117.4Z M641.7,1113.3 L642.6,1111.7 M638.4,1108.5 L639.9,1107.9 M637.4,1107.6 L637.6,1105.8 M630.0,1104.2 L631.1,1102.9 M640.3,1127.9 L641.5,1128.7 M634.1,1133.1 L633.7,1134.9" stroke="#4a4a4a" stroke-width="1.0" fill="#fff" />
<path d="M675.5,1119.3 L675.2,1121.3 L675.2,1123.3 L675.6,1125.7 L673.2,1126.8 L672.1,1128.4 L671.2,1130.3 L669.8,1131.8 L667.7,1132.4 L666.3,1134.0 L664.2,1134.0 L662.5,1135.8 L660.3,1134.4 L658.3,1135.3 L656.3,1134.5 L654.3,1134.4 L652.5,1133.2 L650.7,1132.4 L649.2,1131.0 L647.7,1129.6 L646.8,1127.8 L645.3,1126.3 L644.5,1124.4 L644.6,1122.3 L643.8,1120.3 L644.1,1118.3 L644.4,1116.3 L644.8,1114.3 L645.6,1112.4 L646.4,1110.6 L647.8,1109.1 L649.5,1107.9 L651.1,1106.8 L652.5,1105.4 L654.1,1103.8 L656.4,1104.5 L658.3,1104.0 L660.3,1104.3 L662.3,1103.5 L664.1,1104.8 L666.2,1104.9 L668.0,1105.7 L669.5,1107.1 L670.9,1108.5 L672.1,1110.2 L674.4,1111.1 L674.5,1113.4 L675.3,1115.2 L675.7,1117.2Z M675.1,1119.1 L676.6,1119.5 M650.6,1107.1 L649.8,1105.8 M649.6,1107.9 L647.7,1107.7 M651.5,1132.2 L649.9,1132.9 M644.9,1115.7 L643.3,1116.4 M648.6,1108.8 L647.8,1107.6" stroke="#4a4a4a" stroke-width="1.0" fill="#fff" />
<path d="M708.5,1119.3 L708.5,1121.3 L708.6,1123.4 L707.8,1125.3 L706.4,1126.8 L705.8,1128.8 L704.5,1130.3 L702.8,1131.5 L701.3,1132.8 L699.4,1133.6 L697.8,1135.1 L695.7,1135.2 L693.6,1135.4 L691.6,1134.9 L689.7,1134.3 L687.5,1134.4 L685.7,1133.5 L684.0,1132.3 L682.9,1130.5 L681.2,1129.4 L679.9,1127.9 L678.9,1126.1 L678.8,1124.0 L677.9,1122.3 L677.1,1120.3 L677.3,1118.3 L678.1,1116.4 L677.9,1114.2 L678.9,1112.5 L679.6,1110.5 L681.5,1109.4 L682.5,1107.6 L683.4,1105.5 L685.7,1105.2 L687.6,1104.3 L689.6,1104.0 L691.6,1104.3 L693.6,1103.9 L695.7,1103.5 L697.5,1104.5 L699.6,1104.5 L701.4,1105.6 L702.9,1107.0 L704.6,1108.2 L705.2,1110.3 L706.8,1111.6 L708.8,1112.9 L708.2,1115.3 L708.8,1117.3Z M699.8,1105.5 L699.9,1103.9 M691.8,1104.1 L692.8,1102.5 M680.3,1111.0 L678.6,1110.9 M684.6,1132.0 L684.8,1133.9 M684.2,1106.8 L683.3,1105.7 M703.5,1108.1 L704.7,1107.1" stroke="#4a4a4a" stroke-width="1.0" fill="#fff" />
<path d="M741.9,1119.3 L741.0,1121.2 L741.2,1123.3 L740.8,1125.3 L739.1,1126.7 L738.8,1128.8 L736.9,1129.9 L735.5,1131.2 L734.3,1133.0 L732.2,1133.2 L730.5,1134.5 L728.4,1134.4 L726.5,1134.9 L724.5,1134.3 L722.6,1134.1 L720.6,1133.9 L718.7,1133.4 L717.0,1132.3 L715.2,1131.2 L714.5,1129.1 L712.5,1128.1 L711.6,1126.2 L711.1,1124.2 L710.2,1122.4 L710.0,1120.3 L710.1,1118.3 L710.7,1116.3 L711.0,1114.3 L712.0,1112.6 L712.7,1110.7 L714.4,1109.4 L715.7,1107.9 L717.1,1106.6 L718.9,1105.6 L720.8,1105.2 L722.4,1103.7 L724.5,1103.5 L726.5,1103.8 L728.6,1103.5 L730.8,1103.2 L732.3,1105.0 L734.3,1105.6 L736.1,1106.7 L737.3,1108.4 L738.7,1109.8 L740.1,1111.4 L740.6,1113.4 L741.3,1115.3 L742.7,1117.1Z M730.9,1104.8 L732.6,1103.8 M720.8,1104.9 L720.4,1103.4 M736.6,1108.2 L738.0,1107.6 M734.9,1131.7 L734.7,1133.6 M723.4,1134.4 L723.3,1135.9 M715.4,1108.3 L713.7,1107.8" stroke="#4a4a4a" stroke-width="1.0" fill="#fff" />
<path d="M774.6,1119.3 L774.6,1121.3 L774.3,1123.2 L773.7,1125.1 L773.1,1127.1 L771.9,1128.7 L770.3,1130.0 L769.3,1131.9 L767.2,1132.3 L765.7,1133.8 L763.6,1133.8 L761.7,1134.2 L759.8,1135.6 L757.8,1134.7 L755.9,1134.4 L753.4,1135.3 L751.9,1133.4 L750.2,1132.3 L749.0,1130.6 L747.4,1129.5 L746.5,1127.6 L745.0,1126.2 L745.0,1124.1 L743.9,1122.3 L743.5,1120.3 L743.8,1118.3 L744.3,1116.4 L744.6,1114.4 L745.7,1112.8 L746.4,1110.9 L747.3,1109.1 L748.7,1107.6 L750.2,1106.3 L752.0,1105.2 L754.1,1105.1 L755.9,1104.5 L757.8,1104.0 L759.8,1103.5 L761.8,1104.0 L763.8,1104.1 L765.4,1105.5 L767.6,1105.6 L769.3,1106.8 L770.9,1108.1 L771.8,1110.0 L773.2,1111.5 L773.5,1113.5 L774.0,1115.4 L774.9,1117.3Z M744.6,1123.4 L743.4,1124.7 M745.4,1112.9 L744.5,1111.4 M768.9,1107.3 L770.7,1107.0 M774.1,1123.1 L775.7,1122.9 M771.3,1128.8 L771.7,1130.6 M745.1,1113.5 L743.6,1113.3" stroke="#4a4a4a" stroke-width="1.0" fill="#fff" />
<path d="M808.3,1119.3 L808.5,1121.3 L808.2,1123.4 L807.3,1125.2 L805.7,1126.7 L805.0,1128.5 L804.2,1130.5 L802.3,1131.4 L800.9,1133.0 L799.0,1133.7 L796.9,1134.0 L795.1,1134.8 L793.1,1134.5 L791.1,1135.3 L789.0,1135.0 L787.0,1134.6 L785.5,1133.0 L783.9,1131.8 L781.8,1131.2 L780.7,1129.4 L779.1,1128.1 L778.0,1126.3 L777.8,1124.2 L777.0,1122.3 L776.5,1120.3 L777.5,1118.3 L777.7,1116.4 L777.4,1114.3 L777.5,1112.0 L779.7,1110.9 L781.0,1109.4 L782.3,1108.0 L783.3,1106.0 L785.2,1105.0 L787.1,1104.4 L789.2,1104.4 L791.1,1104.2 L793.1,1103.6 L795.0,1104.2 L797.0,1104.5 L798.8,1105.4 L800.7,1105.9 L802.3,1107.2 L804.1,1108.2 L804.9,1110.1 L806.4,1111.5 L806.9,1113.5 L808.1,1115.2 L808.1,1117.3Z M807.5,1115.7 L809.0,1115.6 M777.5,1121.8 L776.3,1123.3 M790.3,1104.2 L789.9,1102.7 M804.9,1128.4 L805.7,1129.8 M779.4,1111.6 L777.9,1111.2 M805.3,1110.8 L806.2,1109.4" stroke="#4a4a4a" stroke-width="1.0" fill="#fff" />
<path d="M842.2,1159.2 L841.4,1161.1 L841.0,1163.0 L840.5,1164.9 L839.8,1166.8 L840.1,1169.4 L837.8,1170.3 L836.1,1171.4 L834.4,1172.4 L832.8,1173.7 L831.0,1174.6 L829.1,1175.4 L827.0,1174.8 L825.0,1175.5 L823.1,1174.4 L821.1,1174.3 L819.3,1173.5 L817.4,1172.7 L815.5,1171.9 L814.5,1170.0 L812.7,1168.8 L812.1,1166.9 L811.1,1165.1 L810.7,1163.1 L809.8,1161.2 L809.1,1159.2 L809.8,1157.2 L810.2,1155.2 L810.9,1153.2 L811.8,1151.4 L813.3,1150.0 L814.6,1148.5 L815.6,1146.7 L817.3,1145.5 L819.1,1144.6 L821.0,1143.8 L822.9,1143.0 L825.0,1143.3 L827.0,1143.6 L829.1,1143.0 L830.8,1144.3 L832.9,1144.6 L834.3,1146.1 L836.5,1146.5 L837.5,1148.4 L839.2,1149.6 L840.2,1151.4 L840.4,1153.5 L842.4,1155.0 L841.7,1157.2Z M817.2,1172.2 L816.6,1173.6 M834.4,1145.9 L835.8,1145.1 M817.8,1145.8 L817.1,1144.5 M836.8,1147.8 L837.7,1146.6 M839.0,1150.4 L840.8,1150.4 M820.3,1144.6 L820.7,1142.8" stroke="#4a4a4a" stroke-width="1.0" fill="#fff" />
<path d="M841.6,1191.9 L841.3,1193.8 L842.0,1196.0 L841.1,1197.9 L840.2,1199.7 L840.0,1202.1 L837.5,1202.7 L836.4,1204.4 L834.3,1205.0 L832.9,1206.5 L831.0,1207.3 L829.1,1208.1 L827.0,1207.5 L825.0,1207.8 L822.9,1208.1 L821.2,1206.6 L819.3,1206.1 L817.2,1205.7 L815.1,1205.1 L814.4,1202.8 L813.2,1201.2 L812.1,1199.5 L811.4,1197.7 L810.6,1195.9 L809.6,1194.0 L810.1,1191.9 L809.9,1189.9 L810.4,1187.9 L810.4,1185.7 L812.4,1184.4 L813.3,1182.7 L814.6,1181.2 L815.5,1179.2 L817.6,1178.7 L819.2,1177.4 L820.9,1176.4 L823.0,1176.1 L825.0,1176.4 L827.0,1175.9 L829.1,1175.8 L831.0,1176.4 L832.7,1177.7 L834.8,1178.0 L836.4,1179.4 L837.6,1181.0 L839.0,1182.5 L839.6,1184.4 L840.7,1186.1 L841.9,1187.8 L841.6,1189.9Z M810.3,1191.2 L808.9,1189.9 M840.1,1185.1 L841.2,1183.8 M815.9,1204.0 L814.5,1204.7 M839.4,1183.7 L841.2,1183.8 M810.3,1191.1 L808.9,1190.3 M811.1,1186.9 L809.7,1186.6" stroke="#4a4a4a" stroke-width="1.0" fill="#fff" />
<path d="M841.7,1224.8 L841.4,1226.7 L841.9,1228.9 L841.1,1230.8 L839.9,1232.4 L838.9,1234.2 L838.0,1236.1 L836.2,1237.2 L834.4,1238.0 L833.0,1239.6 L831.0,1240.1 L829.1,1240.8 L827.0,1240.8 L825.0,1240.5 L823.0,1240.3 L821.1,1239.9 L819.2,1239.3 L817.3,1238.4 L815.7,1237.2 L814.2,1235.9 L812.8,1234.4 L812.0,1232.5 L811.4,1230.6 L810.9,1228.7 L810.0,1226.8 L809.8,1224.8 L810.2,1222.8 L810.3,1220.8 L810.8,1218.8 L812.0,1217.1 L812.8,1215.2 L814.7,1214.2 L816.1,1212.8 L817.5,1211.4 L819.1,1210.1 L820.9,1209.2 L823.0,1209.1 L825.0,1208.4 L827.0,1208.4 L828.9,1209.5 L830.8,1209.9 L832.7,1210.6 L834.8,1210.9 L835.9,1212.8 L838.1,1213.5 L838.8,1215.5 L840.4,1216.9 L840.7,1219.0 L841.6,1220.8 L842.1,1222.8Z M838.7,1234.0 L839.7,1235.1 M826.9,1240.5 L827.6,1241.9 M812.1,1217.5 L810.3,1217.7 M823.9,1209.2 L823.6,1207.8 M810.3,1223.9 L808.8,1224.5 M810.4,1226.5 L809.0,1227.3" stroke="#4a4a4a" stroke-width="1.0" fill="#fff" />
<path d="M841.8,1257.5 L842.4,1259.6 L841.4,1261.5 L840.8,1263.3 L839.7,1265.0 L839.2,1267.1 L837.5,1268.3 L836.4,1270.1 L834.5,1270.9 L832.8,1271.9 L831.1,1273.1 L829.1,1273.7 L827.0,1273.8 L825.0,1273.6 L823.1,1272.8 L820.9,1273.1 L819.2,1272.0 L817.6,1270.7 L815.8,1269.9 L814.6,1268.2 L813.4,1266.7 L812.4,1265.0 L810.7,1263.6 L810.2,1261.6 L810.2,1259.5 L810.1,1257.5 L809.8,1255.5 L810.1,1253.4 L810.7,1251.4 L811.9,1249.7 L813.0,1248.1 L814.2,1246.4 L815.9,1245.3 L817.3,1243.7 L819.1,1242.9 L821.2,1242.6 L823.0,1241.8 L825.0,1242.0 L827.0,1241.8 L829.0,1241.5 L831.0,1242.0 L832.9,1242.9 L834.3,1244.4 L836.1,1245.3 L837.5,1246.7 L838.8,1248.2 L839.7,1250.0 L840.5,1251.7 L841.9,1253.4 L842.1,1255.5Z M818.0,1271.0 L817.7,1272.5 M815.0,1268.7 L813.9,1269.7 M813.5,1267.0 L812.1,1267.7 M837.6,1246.9 L838.8,1246.0 M812.2,1250.1 L810.9,1249.2 M838.6,1266.9 L839.2,1268.6" stroke="#4a4a4a" stroke-width="1.0" fill="#fff" />
<path d="M842.5,1290.5 L841.6,1292.5 L841.5,1294.5 L841.2,1296.5 L839.6,1298.0 L839.5,1300.3 L837.6,1301.4 L836.4,1303.0 L835.1,1304.8 L832.7,1304.8 L830.9,1305.6 L829.0,1306.3 L827.0,1306.1 L825.0,1306.3 L823.1,1305.8 L821.2,1305.4 L819.1,1305.2 L817.3,1304.3 L815.7,1302.9 L814.2,1301.6 L812.1,1300.6 L811.7,1298.4 L810.8,1296.5 L810.4,1294.5 L810.4,1292.5 L810.0,1290.5 L810.5,1288.5 L810.1,1286.4 L810.8,1284.5 L812.2,1282.9 L813.2,1281.2 L814.0,1279.2 L816.1,1278.6 L817.7,1277.4 L819.0,1275.5 L820.9,1274.8 L822.9,1274.3 L825.0,1274.5 L827.0,1274.2 L829.1,1274.5 L830.8,1275.6 L832.8,1276.0 L834.8,1276.7 L835.9,1278.6 L837.7,1279.6 L839.3,1280.8 L839.7,1283.0 L841.1,1284.5 L841.5,1286.5 L842.2,1288.4Z M834.6,1303.6 L835.7,1304.7 M839.1,1281.8 L840.6,1281.3 M811.4,1296.3 L809.8,1296.1 M828.1,1274.9 L827.5,1273.4 M830.3,1305.6 L829.8,1307.3 M822.8,1305.9 L821.9,1307.2" stroke="#4a4a4a" stroke-width="1.0" fill="#fff" />
<path d="M841.6,1324.0 L841.9,1326.0 L841.4,1328.0 L840.9,1329.9 L839.9,1331.6 L838.6,1333.1 L837.4,1334.7 L836.1,1336.2 L834.7,1337.7 L832.8,1338.4 L831.0,1339.5 L828.9,1339.3 L827.0,1339.7 L825.0,1340.0 L823.0,1339.7 L821.1,1339.2 L818.7,1339.5 L817.3,1337.7 L815.9,1336.2 L814.1,1335.2 L812.8,1333.6 L811.7,1331.9 L810.6,1330.1 L810.4,1328.0 L809.9,1326.0 L808.9,1324.0 L810.0,1322.0 L810.9,1320.1 L810.6,1317.9 L811.1,1315.8 L813.3,1314.8 L814.1,1312.9 L816.0,1311.9 L817.7,1310.9 L819.0,1309.2 L820.9,1308.3 L822.9,1307.8 L825.0,1308.1 L827.0,1308.3 L828.9,1308.6 L830.9,1308.8 L832.9,1309.4 L834.6,1310.5 L835.9,1312.0 L837.4,1313.3 L839.9,1313.9 L840.3,1316.1 L840.9,1318.1 L841.3,1320.1 L842.4,1321.9Z M835.3,1311.4 L835.3,1309.5 M819.7,1309.6 L819.1,1308.2 M831.7,1338.6 L831.9,1340.2 M819.0,1310.0 L818.6,1308.5 M814.5,1313.4 L812.5,1313.3 M837.7,1334.4 L839.6,1334.5" stroke="#4a4a4a" stroke-width="1.0" fill="#fff" />
<path d="M842.0,1357.0 L842.0,1359.0 L841.1,1360.9 L841.0,1362.9 L839.6,1364.4 L838.9,1366.4 L838.0,1368.2 L836.3,1369.4 L834.6,1370.5 L832.8,1371.4 L831.1,1372.6 L829.1,1373.4 L827.0,1372.7 L825.0,1372.8 L822.9,1373.2 L821.1,1372.2 L819.3,1371.3 L817.4,1370.6 L816.0,1369.1 L814.2,1368.1 L812.8,1366.6 L812.5,1364.4 L811.3,1362.8 L811.0,1360.9 L810.1,1359.0 L809.6,1357.0 L809.7,1354.9 L810.3,1353.0 L811.2,1351.1 L812.4,1349.5 L812.8,1347.4 L814.0,1345.7 L815.9,1344.9 L817.7,1343.9 L819.3,1342.9 L821.0,1341.7 L823.0,1341.5 L825.0,1340.8 L827.0,1340.9 L828.9,1341.8 L830.8,1342.2 L832.7,1342.8 L834.5,1343.6 L836.3,1344.5 L838.2,1345.5 L838.9,1347.6 L839.7,1349.4 L840.7,1351.2 L841.4,1353.0 L842.9,1354.9Z M816.9,1369.8 L816.9,1371.6 M837.0,1368.2 L837.1,1370.2 M820.4,1342.3 L819.2,1341.2 M811.2,1362.3 L810.0,1363.4 M824.0,1341.4 L824.7,1339.8 M833.9,1343.4 L834.7,1342.2" stroke="#4a4a4a" stroke-width="1.0" fill="#fff" />
<path d="M841.9,1389.7 L842.4,1391.8 L841.7,1393.7 L840.8,1395.6 L840.3,1397.6 L838.9,1399.1 L838.0,1401.0 L836.1,1402.0 L834.4,1403.0 L832.8,1404.1 L830.9,1404.7 L829.1,1405.7 L827.0,1405.5 L825.0,1405.3 L823.1,1405.1 L821.0,1404.9 L819.0,1404.6 L817.1,1403.7 L815.9,1402.0 L814.5,1400.5 L813.0,1399.1 L812.4,1397.2 L810.5,1395.8 L810.7,1393.6 L810.5,1391.7 L809.7,1389.7 L810.1,1387.7 L810.7,1385.8 L811.1,1383.8 L811.7,1381.9 L812.7,1380.1 L814.4,1378.8 L815.8,1377.3 L817.1,1375.7 L819.4,1375.7 L821.0,1374.5 L822.9,1373.5 L825.0,1373.4 L827.0,1373.3 L828.9,1374.5 L831.1,1374.1 L833.0,1374.8 L834.4,1376.4 L835.9,1377.7 L837.6,1378.8 L839.2,1380.1 L840.4,1381.8 L840.7,1383.9 L841.0,1385.8 L841.6,1387.7Z M823.2,1405.1 L821.9,1406.4 M839.4,1381.6 L840.3,1380.1 M841.6,1388.4 L843.2,1389.3 M819.7,1375.3 L818.1,1374.4 M840.7,1384.2 L842.5,1384.9 M823.7,1405.2 L822.2,1406.5" stroke="#4a4a4a" stroke-width="1.0" fill="#fff" />
<path d="M842.5,1423.3 L841.3,1425.2 L841.4,1427.3 L841.0,1429.2 L840.4,1431.2 L838.5,1432.4 L837.9,1434.4 L836.4,1435.9 L834.4,1436.5 L832.7,1437.6 L831.0,1438.7 L829.0,1439.1 L827.0,1438.9 L825.0,1439.7 L822.9,1439.5 L821.1,1438.5 L819.0,1438.2 L817.2,1437.2 L815.5,1436.0 L814.6,1434.0 L813.1,1432.6 L811.5,1431.3 L811.0,1429.3 L810.9,1427.2 L809.8,1425.3 L810.4,1423.3 L809.9,1421.3 L810.5,1419.3 L811.0,1417.4 L811.8,1415.5 L812.6,1413.6 L814.5,1412.5 L816.0,1411.2 L817.3,1409.6 L819.3,1409.0 L821.0,1407.9 L823.0,1407.8 L825.0,1407.2 L827.0,1407.0 L828.9,1407.9 L831.0,1408.0 L833.0,1408.5 L834.7,1409.7 L836.0,1411.2 L838.0,1412.1 L838.6,1414.2 L839.6,1415.8 L841.5,1417.2 L841.6,1419.3 L842.4,1421.2Z M830.0,1408.1 L829.7,1406.5 M840.3,1416.7 L841.1,1415.0 M841.5,1425.7 L843.1,1424.8 M835.2,1410.6 L837.1,1410.1 M813.6,1433.0 L812.5,1434.0 M840.4,1417.1 L841.7,1416.2" stroke="#4a4a4a" stroke-width="1.0" fill="#fff" />
<path d="M842.8,1523.0 L842.2,1525.0 L841.8,1527.0 L841.1,1528.9 L840.2,1530.7 L840.0,1533.0 L837.6,1533.7 L836.2,1535.1 L834.7,1536.5 L833.2,1538.0 L831.3,1538.8 L829.1,1538.4 L827.2,1538.8 L825.2,1538.9 L823.1,1539.1 L821.1,1538.8 L819.2,1537.8 L817.8,1536.2 L816.2,1535.1 L814.2,1534.3 L813.0,1532.6 L811.0,1531.3 L811.3,1528.9 L810.4,1527.1 L810.0,1525.0 L809.6,1523.0 L810.1,1521.0 L811.0,1519.1 L811.2,1517.1 L811.8,1515.1 L812.7,1513.2 L814.6,1512.1 L816.1,1510.8 L817.5,1509.3 L819.3,1508.3 L821.1,1507.2 L823.1,1506.9 L825.1,1505.8 L827.3,1506.3 L829.2,1507.5 L831.0,1508.1 L833.0,1508.6 L834.7,1509.6 L836.1,1511.0 L838.2,1511.7 L839.4,1513.4 L841.5,1514.6 L840.8,1517.2 L841.7,1519.0 L842.6,1520.9Z M821.8,1538.2 L820.2,1539.2 M817.7,1509.7 L816.4,1508.8 M828.3,1507.3 L829.6,1506.0 M826.6,1538.8 L827.5,1540.3 M838.5,1532.9 L840.2,1533.2 M839.6,1514.7 L841.0,1514.1" stroke="#4a4a4a" stroke-width="1.0" fill="#fff" />
<path d="M342.8,867.6 L343.6,869.8 L342.0,871.6 L341.2,873.4 L341.0,875.6 L339.5,877.1 L337.9,878.4 L336.7,880.0 L335.0,881.2 L333.0,881.7 L331.3,882.6 L329.4,883.4 L327.3,883.2 L325.3,883.5 L323.3,883.1 L321.4,882.4 L319.2,882.2 L317.9,880.3 L316.2,879.2 L314.7,877.9 L313.5,876.3 L312.0,874.7 L311.4,872.7 L310.8,870.7 L311.3,868.6 L310.9,866.6 L311.5,864.6 L311.6,862.5 L312.1,860.5 L313.8,859.1 L314.8,857.4 L316.2,855.9 L317.4,854.2 L319.6,853.8 L321.3,852.5 L323.3,852.2 L325.3,851.6 L327.3,852.2 L329.4,851.7 L331.4,852.0 L333.3,852.9 L334.9,854.3 L336.9,855.0 L338.5,856.3 L339.7,858.0 L340.6,859.8 L341.3,861.7 L342.4,863.5 L342.8,865.5Z M325.0,852.1 L325.6,850.5 M337.0,879.4 L337.2,881.2 M311.3,866.0 L309.7,867.0 M311.8,872.0 L310.1,871.3 M327.8,852.0 L328.5,850.6 M323.3,882.8 L322.9,884.3" stroke="#4a4a4a" stroke-width="1.0" fill="#fff" />
<path d="M348.5,906.8 L347.8,908.9 L347.5,910.9 L346.1,912.6 L345.8,914.7 L345.2,916.8 L343.3,917.9 L342.0,919.6 L339.8,920.0 L338.4,921.8 L336.4,922.2 L334.3,922.0 L332.3,922.2 L330.2,923.5 L328.0,923.4 L326.3,921.7 L324.3,921.1 L322.9,919.5 L321.0,918.7 L320.1,916.8 L318.3,915.6 L316.9,914.0 L316.5,911.9 L315.7,909.9 L315.6,907.8 L315.6,905.8 L316.3,903.8 L317.2,901.9 L317.4,899.9 L317.9,897.7 L318.8,895.8 L321.2,895.1 L322.4,893.3 L324.3,892.4 L326.5,892.4 L328.3,891.7 L330.2,890.4 L332.4,889.5 L334.3,891.6 L336.4,891.3 L338.1,892.6 L339.9,893.4 L341.7,894.3 L343.1,895.9 L344.7,897.2 L345.6,899.0 L346.0,901.0 L347.2,902.8 L347.2,904.8Z M330.9,891.2 L330.8,889.7 M317.0,901.8 L316.1,900.1 M336.3,891.9 L336.1,890.3 M346.1,913.1 L347.0,914.6 M333.8,922.3 L333.3,923.8 M345.9,913.6 L347.4,913.7" stroke="#4a4a4a" stroke-width="1.0" fill="#fff" />
<path d="M352.9,945.5 L352.8,947.5 L352.6,949.6 L351.3,951.3 L351.2,953.5 L349.3,954.7 L348.1,956.3 L346.9,957.9 L345.0,958.7 L343.3,959.8 L341.5,960.7 L339.5,960.7 L337.5,961.9 L335.4,961.9 L333.4,961.4 L331.4,960.7 L329.8,959.2 L327.7,958.8 L326.4,957.2 L324.1,956.5 L323.4,954.4 L322.1,952.7 L321.9,950.5 L321.3,948.6 L321.3,946.5 L321.6,944.5 L320.9,942.4 L322.0,940.5 L323.1,938.8 L323.6,936.7 L324.6,935.0 L326.0,933.4 L327.5,931.8 L329.7,931.5 L331.5,930.5 L333.6,930.5 L335.5,929.9 L337.5,929.3 L339.7,928.7 L341.6,930.0 L343.6,930.6 L345.4,931.7 L346.9,933.1 L348.6,934.3 L349.7,936.0 L350.7,937.8 L351.7,939.6 L352.2,941.5 L352.9,943.4Z M331.2,960.0 L331.4,961.6 M349.5,936.1 L350.8,935.4 M336.2,929.9 L336.2,928.4 M321.4,945.1 L319.9,944.3 M346.8,957.6 L347.3,959.2 M336.8,961.1 L337.3,962.6" stroke="#4a4a4a" stroke-width="1.0" fill="#fff" />
<path d="M360.7,984.2 L359.5,986.2 L360.0,988.3 L359.1,990.2 L358.0,992.0 L357.2,993.9 L355.4,995.1 L354.9,997.7 L352.3,997.5 L350.8,999.2 L348.8,999.7 L346.9,1001.1 L344.7,1000.4 L342.7,999.6 L340.7,999.6 L338.6,999.5 L336.9,998.2 L335.0,997.4 L333.5,996.0 L332.0,994.6 L330.8,992.9 L330.2,990.9 L328.8,989.3 L328.2,987.3 L328.8,985.2 L328.0,983.2 L328.2,981.1 L328.9,979.1 L330.1,977.4 L330.8,975.5 L332.3,974.1 L333.2,972.1 L335.3,971.4 L336.9,970.2 L338.5,968.7 L340.7,968.9 L342.7,968.8 L344.7,968.0 L346.7,968.7 L348.8,968.7 L350.7,969.6 L352.2,971.0 L353.8,972.2 L356.0,972.8 L356.6,975.0 L358.4,976.2 L358.7,978.3 L359.9,980.1 L360.1,982.2Z M350.1,998.6 L350.4,1000.1 M358.7,989.9 L359.7,991.3 M359.8,984.9 L361.2,985.9 M337.6,970.1 L337.8,968.3 M353.7,971.8 L355.5,971.3 M358.5,990.4 L360.1,990.4" stroke="#4a4a4a" stroke-width="1.0" fill="#fff" />
<path d="M367.3,1021.3 L368.1,1023.4 L367.2,1025.3 L366.7,1027.3 L366.1,1029.3 L365.2,1031.2 L363.3,1032.3 L361.8,1033.8 L360.2,1035.0 L358.2,1035.5 L356.5,1036.9 L354.4,1036.8 L352.4,1037.0 L350.3,1037.6 L348.5,1036.3 L346.5,1036.1 L344.4,1035.6 L343.1,1033.9 L340.9,1033.5 L339.9,1031.5 L338.3,1030.1 L337.3,1028.3 L336.8,1026.3 L336.0,1024.4 L336.0,1022.3 L336.5,1020.3 L336.5,1018.3 L337.3,1016.4 L337.9,1014.6 L338.7,1012.7 L339.8,1011.0 L341.2,1009.6 L342.8,1008.3 L344.8,1007.6 L346.2,1005.9 L348.4,1005.9 L350.4,1005.8 L352.4,1005.3 L354.5,1005.5 L356.4,1006.3 L358.6,1006.3 L360.0,1007.9 L361.9,1008.8 L363.7,1009.9 L364.3,1012.0 L366.1,1013.3 L367.1,1015.1 L367.3,1017.3 L368.0,1019.2Z M362.1,1033.1 L363.1,1034.2 M353.2,1036.8 L353.1,1038.4 M338.1,1014.0 L337.5,1012.1 M353.0,1036.9 L354.1,1038.3 M367.5,1020.4 L368.9,1019.2 M367.3,1023.5 L368.6,1024.9" stroke="#4a4a4a" stroke-width="1.0" fill="#fff" />
<path d="M379.2,1061.5 L379.4,1063.5 L379.5,1065.7 L378.2,1067.4 L377.4,1069.2 L376.7,1071.2 L375.2,1072.6 L373.5,1073.7 L372.2,1075.5 L370.0,1075.8 L368.6,1078.1 L366.3,1077.5 L364.2,1077.1 L362.2,1077.3 L360.2,1076.9 L358.0,1076.9 L356.5,1075.3 L354.7,1074.4 L352.7,1073.7 L351.7,1071.8 L350.2,1070.3 L349.4,1068.4 L349.1,1066.3 L348.6,1064.4 L347.9,1062.5 L347.2,1060.4 L348.5,1058.5 L348.4,1056.4 L349.5,1054.7 L350.5,1052.9 L351.3,1051.0 L353.3,1050.0 L354.5,1048.3 L356.2,1047.0 L358.3,1046.8 L360.0,1045.5 L362.2,1045.7 L364.2,1045.8 L366.2,1045.9 L368.2,1046.4 L370.0,1047.2 L371.7,1048.3 L373.8,1048.8 L375.3,1050.3 L377.5,1051.2 L377.1,1053.9 L378.9,1055.3 L379.1,1057.4 L379.4,1059.5Z M376.3,1052.3 L377.2,1051.1 M362.8,1077.1 L362.1,1078.5 M377.9,1068.0 L378.8,1069.5 M348.1,1060.6 L346.7,1060.0 M368.5,1046.6 L368.5,1045.1 M348.1,1061.4 L346.6,1061.1" stroke="#4a4a4a" stroke-width="1.0" fill="#fff" />
<path d="M388.6,1095.9 L389.2,1098.0 L388.2,1099.9 L388.2,1102.1 L386.9,1103.8 L386.0,1105.7 L384.0,1106.6 L383.1,1108.7 L381.4,1109.9 L379.3,1110.3 L377.3,1110.7 L375.4,1111.3 L373.4,1111.7 L371.3,1112.3 L369.3,1111.7 L367.3,1111.2 L365.8,1109.5 L363.6,1109.2 L362.1,1107.7 L361.0,1106.0 L359.7,1104.5 L357.5,1103.3 L357.4,1101.1 L357.7,1098.9 L357.3,1096.9 L356.6,1094.9 L356.1,1092.6 L357.9,1090.9 L358.5,1089.0 L359.2,1087.0 L360.9,1085.7 L362.2,1084.1 L363.9,1083.0 L365.3,1081.3 L367.3,1080.8 L369.4,1080.4 L371.4,1080.2 L373.4,1080.0 L375.5,1079.9 L377.4,1080.8 L379.3,1081.4 L381.2,1082.2 L382.8,1083.5 L384.2,1085.0 L385.8,1086.3 L387.0,1088.0 L388.3,1089.7 L387.9,1092.0 L389.2,1093.8Z M386.7,1103.2 L387.3,1105.1 M362.0,1107.1 L361.9,1109.0 M384.1,1085.1 L385.3,1084.2 M357.6,1093.1 L356.2,1092.1 M386.4,1088.1 L388.3,1088.5 M359.4,1103.7 L357.8,1103.9" stroke="#4a4a4a" stroke-width="1.0" fill="#fff" />
<path d="M403.0,1130.4 L403.5,1132.5 L403.4,1134.6 L401.7,1136.2 L401.8,1138.5 L400.0,1139.8 L399.2,1141.7 L397.6,1143.1 L395.9,1144.3 L393.8,1144.5 L391.9,1145.4 L390.1,1146.3 L388.0,1146.2 L386.0,1146.1 L384.1,1145.4 L382.0,1145.2 L380.0,1144.7 L378.2,1143.7 L376.8,1142.1 L375.1,1141.0 L374.6,1138.8 L373.6,1137.1 L372.5,1135.4 L371.5,1133.5 L371.1,1131.4 L371.4,1129.4 L371.8,1127.3 L372.3,1125.4 L371.9,1122.9 L374.0,1121.6 L374.3,1119.2 L376.5,1118.3 L378.4,1117.3 L379.8,1115.5 L382.2,1115.9 L383.8,1114.4 L386.0,1114.9 L388.0,1114.1 L390.0,1115.1 L392.2,1114.7 L394.1,1115.6 L395.7,1116.8 L398.3,1116.9 L399.2,1119.1 L400.2,1120.9 L401.7,1122.4 L402.2,1124.4 L403.0,1126.3 L402.9,1128.4Z M380.4,1144.3 L380.7,1146.1 M381.4,1116.0 L380.4,1114.8 M401.0,1138.2 L402.0,1139.4 M403.0,1128.9 L404.5,1128.3 M372.0,1128.9 L370.5,1128.8 M375.0,1121.1 L373.1,1121.2" stroke="#4a4a4a" stroke-width="1.0" fill="#fff" />
<path d="M420.4,1166.2 L420.6,1168.2 L420.5,1170.3 L419.3,1172.1 L419.0,1174.2 L417.1,1175.4 L416.5,1177.5 L414.4,1178.2 L412.9,1179.6 L411.5,1181.2 L409.7,1182.7 L407.4,1182.3 L405.3,1181.7 L403.3,1181.6 L401.3,1181.3 L399.1,1181.6 L397.6,1179.9 L395.5,1179.6 L394.0,1178.1 L392.4,1176.7 L391.8,1174.7 L390.2,1173.2 L390.2,1171.0 L388.9,1169.3 L388.8,1167.2 L388.9,1165.2 L389.1,1163.1 L389.2,1161.0 L390.7,1159.4 L391.5,1157.5 L392.4,1155.7 L394.1,1154.4 L395.7,1153.1 L397.4,1152.0 L399.4,1151.6 L401.1,1150.2 L403.3,1150.8 L405.3,1150.8 L407.3,1150.4 L409.4,1150.6 L411.0,1152.1 L412.9,1152.8 L414.7,1153.8 L416.2,1155.2 L417.5,1156.7 L418.8,1158.3 L419.9,1160.1 L420.6,1162.1 L420.7,1164.2Z M402.7,1181.7 L403.5,1183.3 M419.1,1160.0 L421.0,1160.7 M390.1,1171.3 L388.7,1172.1 M390.2,1171.7 L388.6,1171.6 M393.0,1156.0 L391.5,1155.5 M401.2,1151.0 L400.8,1149.6" stroke="#4a4a4a" stroke-width="1.0" fill="#fff" />
<path d="M438.5,1200.7 L438.4,1202.7 L437.7,1204.7 L437.5,1206.8 L436.7,1208.7 L434.9,1210.0 L433.7,1211.5 L432.7,1213.5 L430.9,1214.6 L429.1,1215.7 L427.1,1216.3 L425.0,1216.4 L423.0,1216.6 L421.0,1216.0 L418.6,1217.6 L417.0,1215.7 L415.0,1215.2 L413.1,1214.1 L412.1,1212.2 L410.0,1211.3 L409.2,1209.4 L407.7,1207.8 L406.2,1206.1 L407.0,1203.7 L406.3,1201.7 L406.5,1199.7 L406.9,1197.7 L407.9,1195.9 L407.2,1193.3 L408.7,1191.7 L410.5,1190.5 L412.0,1189.1 L413.6,1188.0 L415.1,1186.5 L416.7,1184.9 L418.9,1184.8 L420.9,1184.6 L423.0,1185.0 L425.1,1184.5 L427.0,1185.7 L428.9,1186.2 L431.0,1186.7 L432.5,1188.2 L434.3,1189.3 L435.2,1191.2 L435.9,1193.2 L437.7,1194.5 L437.5,1196.8 L438.5,1198.6Z M409.6,1191.9 L407.8,1191.9 M438.1,1199.5 L439.5,1199.1 M422.2,1216.3 L423.3,1217.8 M410.7,1190.4 L408.9,1190.3 M434.4,1210.8 L434.9,1212.5 M436.4,1193.6 L438.1,1193.7" stroke="#4a4a4a" stroke-width="1.0" fill="#fff" />
<path d="M459.4,1235.2 L459.3,1237.2 L459.4,1239.3 L459.0,1241.3 L457.5,1242.9 L456.2,1244.5 L455.5,1246.5 L453.8,1247.7 L452.1,1248.8 L450.1,1249.3 L448.3,1250.3 L446.3,1250.6 L444.3,1250.8 L442.3,1251.2 L440.3,1250.6 L438.2,1250.3 L436.5,1249.2 L434.4,1248.7 L433.4,1246.7 L432.1,1245.2 L430.3,1244.0 L429.5,1242.1 L428.3,1240.3 L428.5,1238.2 L428.4,1236.2 L427.7,1234.2 L428.3,1232.2 L429.0,1230.3 L429.5,1228.3 L430.2,1226.4 L431.5,1224.7 L433.4,1223.7 L434.8,1222.3 L436.4,1221.0 L438.2,1219.9 L440.3,1219.8 L442.2,1218.9 L444.3,1218.8 L446.3,1220.0 L448.4,1219.6 L450.4,1220.2 L452.3,1221.2 L453.6,1222.9 L455.4,1223.9 L456.3,1225.9 L457.5,1227.5 L458.1,1229.4 L458.7,1231.3 L459.2,1233.2Z M443.0,1250.8 L443.7,1252.3 M429.7,1241.9 L427.9,1241.4 M439.0,1250.1 L439.5,1251.8 M457.4,1227.6 L458.3,1226.1 M438.9,1220.4 L437.6,1219.3 M445.5,1219.7 L445.4,1218.2" stroke="#4a4a4a" stroke-width="1.0" fill="#fff" />
<path d="M482.0,1268.3 L481.5,1270.3 L481.5,1272.4 L480.8,1274.4 L479.6,1276.1 L478.3,1277.6 L477.4,1279.5 L475.9,1281.0 L474.2,1282.1 L472.1,1282.4 L470.3,1283.4 L468.3,1283.5 L466.3,1284.3 L464.3,1283.9 L462.4,1283.3 L460.3,1283.1 L458.6,1282.0 L456.6,1281.4 L455.1,1280.0 L453.6,1278.7 L452.6,1276.9 L451.3,1275.3 L450.6,1273.4 L449.9,1271.4 L450.4,1269.3 L450.2,1267.3 L450.7,1265.4 L451.1,1263.4 L452.0,1261.6 L452.8,1259.8 L453.6,1257.9 L455.0,1256.5 L456.7,1255.2 L458.6,1254.4 L460.4,1253.6 L462.4,1253.2 L464.2,1252.1 L466.3,1252.1 L468.3,1253.1 L470.3,1253.3 L472.2,1253.8 L474.3,1254.3 L475.5,1256.1 L477.0,1257.5 L478.5,1258.8 L479.7,1260.5 L480.7,1262.3 L481.8,1264.1 L481.3,1266.3Z M450.3,1270.1 L448.8,1270.1 M459.3,1254.1 L458.6,1252.8 M451.0,1273.2 L449.5,1273.4 M473.4,1281.9 L472.9,1283.8 M450.9,1272.9 L449.4,1273.0 M469.3,1253.1 L468.7,1251.4" stroke="#4a4a4a" stroke-width="1.0" fill="#fff" />
<path d="M507.0,1300.2 L508.1,1302.4 L507.3,1304.5 L505.5,1306.1 L505.2,1308.2 L504.1,1310.0 L502.3,1311.2 L500.6,1312.2 L499.1,1313.6 L497.9,1315.7 L495.5,1315.4 L493.5,1315.7 L491.5,1315.7 L489.5,1315.5 L487.4,1316.1 L485.6,1315.0 L483.9,1313.9 L481.8,1313.3 L480.0,1312.3 L479.2,1310.3 L477.4,1309.0 L476.3,1307.3 L476.2,1305.1 L475.7,1303.2 L475.3,1301.2 L474.9,1299.2 L475.3,1297.1 L475.4,1295.0 L476.7,1293.3 L477.4,1291.4 L478.2,1289.3 L480.4,1288.5 L481.1,1286.0 L483.9,1286.5 L485.7,1285.7 L487.6,1285.1 L489.5,1284.8 L491.5,1284.7 L493.5,1284.5 L495.7,1284.5 L497.2,1286.1 L499.3,1286.5 L500.6,1288.1 L502.6,1288.9 L504.0,1290.5 L505.3,1292.2 L506.2,1294.0 L506.4,1296.1 L506.8,1298.2Z M499.6,1287.2 L501.3,1286.5 M498.2,1314.0 L498.2,1315.7 M475.4,1299.9 L473.9,1300.5 M499.5,1313.3 L501.3,1313.8 M475.8,1296.8 L474.4,1296.2 M475.7,1297.0 L474.4,1296.2" stroke="#4a4a4a" stroke-width="1.0" fill="#fff" />
<path d="M536.2,1332.0 L535.6,1334.0 L536.4,1336.2 L535.4,1338.2 L534.1,1339.8 L533.3,1341.8 L531.5,1343.0 L530.7,1345.2 L528.7,1346.0 L526.7,1346.7 L524.7,1347.2 L522.8,1348.2 L520.7,1347.7 L518.7,1347.5 L516.6,1347.7 L514.9,1346.5 L512.3,1347.2 L511.3,1344.8 L509.4,1343.9 L508.1,1342.3 L507.1,1340.6 L506.1,1338.8 L504.8,1337.1 L504.9,1335.0 L504.2,1333.0 L503.8,1330.9 L504.2,1328.9 L504.7,1326.9 L506.2,1325.2 L507.1,1323.4 L508.0,1321.6 L509.5,1320.3 L511.3,1319.2 L512.6,1317.4 L514.6,1316.9 L516.8,1317.0 L518.7,1316.0 L520.7,1315.6 L522.8,1315.9 L524.8,1316.6 L526.6,1317.5 L528.3,1318.7 L530.4,1319.2 L531.8,1320.8 L533.5,1322.1 L534.1,1324.2 L535.1,1326.0 L536.3,1327.8 L535.6,1330.0Z M518.9,1347.5 L517.9,1348.9 M509.4,1320.7 L508.2,1319.8 M524.5,1347.0 L523.8,1348.7 M525.9,1346.5 L525.9,1348.1 M507.6,1341.2 L506.2,1341.8 M508.9,1321.3 L507.3,1320.8" stroke="#4a4a4a" stroke-width="1.0" fill="#fff" />
<path d="M565.2,1361.7 L565.6,1363.8 L564.5,1365.7 L564.1,1367.7 L563.6,1369.7 L562.0,1371.2 L560.5,1372.5 L559.3,1374.2 L557.7,1375.5 L555.8,1376.5 L553.9,1377.3 L551.9,1378.0 L549.8,1377.8 L547.8,1377.2 L545.7,1377.4 L543.8,1376.5 L542.0,1375.6 L540.3,1374.6 L538.9,1373.1 L537.1,1372.1 L536.3,1370.2 L534.8,1368.7 L533.7,1366.9 L532.5,1365.0 L533.6,1362.7 L533.0,1360.7 L533.6,1358.6 L533.8,1356.6 L535.2,1354.9 L535.8,1352.9 L537.0,1351.3 L539.0,1350.3 L540.2,1348.6 L541.9,1347.6 L543.8,1346.6 L545.7,1345.8 L547.8,1345.9 L549.8,1345.6 L551.9,1345.9 L553.7,1346.8 L555.7,1347.1 L557.6,1348.0 L559.1,1349.4 L561.1,1350.3 L562.1,1352.2 L563.6,1353.6 L563.6,1355.9 L565.2,1357.5 L565.3,1359.6Z M549.3,1377.3 L549.0,1378.8 M547.4,1377.2 L548.1,1378.8 M551.2,1346.2 L552.4,1344.9 M564.3,1365.8 L565.8,1366.2 M560.5,1372.6 L561.8,1373.3 M545.5,1346.6 L544.8,1345.2" stroke="#4a4a4a" stroke-width="1.0" fill="#fff" />
<path d="M596.7,1389.7 L596.2,1391.7 L596.8,1393.9 L595.8,1395.7 L595.1,1397.7 L594.6,1400.0 L592.7,1401.1 L590.5,1401.8 L589.0,1403.1 L587.5,1404.6 L585.6,1405.4 L583.5,1405.6 L581.4,1405.7 L579.3,1406.4 L577.4,1404.8 L575.2,1405.1 L573.6,1403.6 L571.8,1402.7 L570.2,1401.5 L568.2,1400.5 L567.4,1398.5 L566.8,1396.5 L565.5,1394.8 L565.1,1392.8 L564.9,1390.7 L565.5,1388.7 L565.5,1386.7 L565.3,1384.5 L566.8,1382.9 L566.6,1380.4 L569.2,1379.7 L570.2,1377.9 L572.1,1377.1 L573.6,1375.7 L575.2,1374.3 L577.4,1374.5 L579.3,1373.5 L581.4,1374.1 L583.5,1373.7 L585.6,1374.0 L587.4,1374.9 L589.4,1375.7 L590.6,1377.6 L592.5,1378.5 L593.3,1380.4 L594.4,1382.1 L595.9,1383.6 L595.8,1385.8 L597.1,1387.6Z M568.1,1380.7 L566.4,1380.6 M592.7,1399.8 L593.8,1401.0 M583.0,1405.2 L584.0,1406.5 M591.5,1378.3 L592.9,1377.5 M565.3,1389.6 L563.9,1388.3 M594.2,1397.9 L595.9,1397.9" stroke="#4a4a4a" stroke-width="1.0" fill="#fff" />
<path d="M632.9,1414.5 L631.7,1416.5 L632.6,1418.9 L631.2,1420.7 L629.9,1422.4 L628.2,1423.7 L628.2,1426.4 L625.8,1426.9 L624.1,1428.0 L622.5,1429.4 L620.5,1429.9 L618.4,1430.1 L616.5,1431.7 L614.4,1430.0 L612.4,1430.1 L610.3,1429.7 L608.5,1428.8 L607.1,1427.1 L604.2,1427.3 L604.0,1424.6 L602.4,1423.3 L601.5,1421.5 L600.5,1419.6 L600.6,1417.5 L600.6,1415.5 L600.1,1413.5 L599.5,1411.3 L601.0,1409.6 L601.6,1407.6 L602.3,1405.7 L603.7,1404.1 L605.3,1402.8 L606.8,1401.4 L608.6,1400.5 L609.9,1398.3 L612.5,1399.4 L614.3,1398.2 L616.4,1398.6 L618.4,1399.0 L620.5,1398.9 L622.2,1400.4 L623.9,1401.3 L625.7,1402.2 L627.3,1403.5 L628.3,1405.2 L629.3,1407.0 L630.2,1408.7 L631.0,1410.5 L631.9,1412.4Z M603.4,1405.2 L602.6,1403.7 M631.4,1416.3 L632.9,1416.3 M616.1,1398.9 L616.4,1397.4 M600.3,1414.0 L598.8,1413.7 M602.2,1407.1 L600.3,1407.5 M619.3,1429.7 L620.2,1431.0" stroke="#4a4a4a" stroke-width="1.0" fill="#fff" />
<path d="M712.2,1468.5 L711.7,1470.5 L711.0,1472.4 L711.2,1474.6 L710.0,1476.3 L708.4,1477.7 L707.7,1479.7 L705.7,1480.5 L704.6,1482.5 L702.7,1483.3 L700.5,1483.4 L698.6,1484.2 L696.6,1484.6 L694.6,1484.1 L692.6,1483.9 L690.7,1483.3 L688.6,1482.8 L686.8,1481.9 L685.2,1480.5 L683.9,1478.9 L683.1,1477.0 L682.0,1475.3 L680.5,1473.7 L679.9,1471.6 L680.0,1469.5 L680.0,1467.5 L680.1,1465.4 L681.0,1463.5 L682.2,1461.8 L682.4,1459.6 L683.4,1457.7 L685.2,1456.5 L686.8,1455.2 L688.7,1454.3 L690.7,1453.9 L692.5,1452.9 L694.6,1452.9 L696.6,1452.4 L698.7,1452.6 L700.6,1453.2 L702.3,1454.5 L704.7,1454.4 L706.1,1456.0 L708.2,1456.7 L708.4,1459.3 L710.1,1460.6 L711.3,1462.4 L711.6,1464.4 L711.8,1466.5Z M710.3,1462.1 L711.8,1461.8 M709.2,1460.0 L710.1,1458.7 M711.1,1464.1 L712.7,1464.5 M689.2,1482.5 L687.8,1483.4 M710.9,1463.6 L712.1,1462.5 M707.8,1478.8 L708.4,1480.4" stroke="#4a4a4a" stroke-width="1.0" fill="#fff" />
<path d="M748.5,1487.5 L748.6,1489.6 L747.7,1491.5 L747.0,1493.3 L746.0,1495.1 L745.5,1497.2 L744.3,1498.8 L742.5,1499.9 L741.0,1501.4 L739.1,1502.2 L737.3,1503.2 L735.2,1503.5 L733.1,1503.4 L731.0,1503.8 L729.1,1502.7 L727.2,1502.0 L725.1,1501.9 L723.5,1500.5 L721.8,1499.4 L720.5,1497.8 L719.1,1496.3 L717.9,1494.6 L718.0,1492.3 L715.7,1490.8 L716.3,1488.5 L716.5,1486.5 L716.6,1484.4 L717.4,1482.5 L718.7,1480.8 L719.1,1478.7 L720.6,1477.3 L722.1,1476.0 L723.7,1474.7 L725.1,1473.1 L727.0,1472.3 L728.9,1471.5 L731.0,1471.2 L733.1,1472.0 L735.2,1471.6 L737.0,1472.6 L739.2,1472.7 L741.0,1473.7 L743.4,1474.0 L743.9,1476.6 L744.9,1478.3 L746.3,1479.8 L746.8,1481.7 L748.1,1483.4 L748.8,1485.4Z M717.1,1489.2 L715.7,1490.2 M719.8,1496.4 L719.1,1497.9 M730.5,1472.0 L729.3,1470.7 M721.8,1498.7 L721.6,1500.6 M737.5,1472.7 L736.7,1470.9 M726.1,1473.3 L726.0,1471.7" stroke="#4a4a4a" stroke-width="1.0" fill="#fff" />
<path d="M785.9,1505.2 L786.0,1507.2 L785.5,1509.1 L784.9,1511.0 L784.0,1512.8 L782.8,1514.4 L782.0,1516.4 L780.5,1517.8 L778.9,1519.1 L776.9,1519.8 L775.0,1520.4 L773.0,1520.5 L771.0,1520.6 L769.0,1521.2 L767.0,1520.6 L765.2,1519.7 L763.3,1519.1 L761.3,1518.4 L760.0,1516.8 L758.7,1515.2 L757.4,1513.8 L755.8,1512.3 L755.3,1510.2 L754.7,1508.3 L755.1,1506.2 L754.5,1504.2 L754.4,1502.1 L755.0,1500.1 L756.1,1498.3 L757.1,1496.5 L758.1,1494.7 L759.8,1493.4 L761.5,1492.3 L763.2,1491.2 L764.9,1489.9 L767.0,1489.8 L769.0,1489.1 L771.0,1489.7 L773.0,1489.7 L775.0,1490.1 L776.8,1491.0 L779.3,1490.6 L780.6,1492.6 L782.1,1494.0 L782.8,1496.0 L784.3,1497.4 L785.6,1499.1 L786.0,1501.1 L785.8,1503.2Z M757.5,1513.8 L756.6,1515.1 M759.3,1516.1 L759.2,1518.1 M786.1,1506.3 L787.6,1505.6 M780.2,1517.4 L781.3,1518.5 M766.0,1490.2 L766.6,1488.5 M777.9,1491.5 L777.4,1489.6" stroke="#4a4a4a" stroke-width="1.0" fill="#fff" />
<path d="M512.7,942.4 C512.7,943.7 515.7,944.8 515.7,946.3 C515.7,947.8 513.3,948.4 512.8,949.7 C512.4,951.0 513.8,951.9 513.4,952.8 C512.9,953.7 510.8,953.1 510.6,954.1 C510.4,955.1 512.7,956.7 512.3,957.8 C511.9,958.9 509.5,958.2 508.5,959.6 C507.6,960.9 508.4,963.3 507.5,964.4 C506.6,965.5 505.0,964.2 504.0,965.2 C503.1,966.1 503.9,968.4 502.8,969.3 C501.8,970.3 500.1,969.1 498.8,969.9 C497.6,970.6 497.8,972.6 496.6,973.2 C495.4,973.9 494.3,972.4 492.8,973.0 C491.3,973.6 490.4,976.0 488.9,976.3 C487.5,976.5 486.8,974.0 485.6,974.3 C484.4,974.7 484.3,977.8 483.0,977.9 C481.6,978.0 480.3,974.8 478.9,974.8 C477.6,974.8 476.9,977.6 476.1,977.7 C475.2,977.8 475.5,975.5 474.8,975.2 C474.0,974.9 473.4,976.6 472.3,976.2 C471.2,975.9 470.9,974.1 469.3,973.5 C467.7,973.0 465.5,974.0 464.3,973.5 C463.1,973.0 464.3,971.5 463.3,970.8 C462.3,970.2 460.2,971.1 459.2,970.2 C458.3,969.3 459.8,967.2 458.7,966.4 C457.6,965.6 454.5,967.0 453.7,966.3 C452.9,965.5 455.5,963.8 454.9,962.8 C454.2,961.9 451.1,962.6 450.5,961.5 C449.9,960.5 452.5,958.6 451.9,957.7 C451.4,956.8 448.3,958.4 447.7,957.1 C447.1,955.8 449.2,952.7 448.8,951.1 C448.4,949.6 446.0,950.5 445.7,949.5 C445.4,948.5 447.3,947.6 447.3,946.0 C447.2,944.5 445.6,943.1 445.6,941.8 C445.5,940.5 447.1,940.8 447.2,939.6 C447.3,938.4 445.9,937.1 446.1,935.9 C446.4,934.7 448.1,934.7 448.4,933.6 C448.6,932.6 447.1,931.6 447.5,930.6 C447.8,929.6 449.6,929.8 450.1,928.8 C450.6,927.8 449.4,926.2 449.8,925.4 C450.2,924.6 451.2,925.8 452.0,924.9 C452.7,923.9 452.5,921.6 453.4,920.6 C454.3,919.5 455.8,920.5 456.5,919.6 C457.2,918.8 456.3,916.9 456.9,916.4 C457.4,915.8 458.5,917.6 459.2,917.0 C459.9,916.5 459.4,914.5 460.4,913.6 C461.4,912.7 463.6,913.3 464.1,912.5 C464.6,911.7 463.1,910.8 462.9,909.7 C462.8,908.7 462.8,907.9 463.3,907.3 C463.8,906.6 464.5,906.4 465.3,906.7 C466.0,906.9 466.0,907.5 466.8,908.5 C467.7,909.5 469.0,911.6 469.5,911.6 C470.1,911.6 469.6,909.9 469.5,908.7 C469.4,907.4 468.7,906.2 469.0,905.5 C469.2,904.9 470.0,904.9 470.8,905.2 C471.7,905.6 472.5,906.3 473.2,907.2 C473.9,908.2 473.6,910.1 474.2,910.1 C474.8,910.2 475.4,907.5 476.2,907.5 C477.0,907.5 477.3,910.4 478.1,910.3 C478.9,910.1 479.2,906.6 480.2,906.6 C481.3,906.6 481.8,910.0 483.5,910.2 C485.2,910.5 487.1,907.5 488.7,907.7 C490.3,908.0 489.8,910.8 491.4,911.5 C493.1,912.2 495.6,910.7 497.0,911.4 C498.3,912.1 497.1,914.3 498.3,915.0 C499.4,915.8 501.6,914.3 502.7,915.2 C503.8,916.1 503.0,918.6 503.9,919.5 C504.8,920.5 506.3,918.7 507.2,919.8 C508.1,920.9 507.4,923.4 508.3,924.9 C509.2,926.3 511.1,925.8 511.7,927.1 C512.4,928.4 511.1,930.0 511.5,931.2 C511.9,932.4 513.6,931.5 513.8,932.9 C514.1,934.3 512.4,936.9 512.7,938.3 C513.1,939.8 515.6,939.2 515.5,940.0 C515.5,940.8 512.7,941.1 512.7,942.4Z" stroke="#555" stroke-width="0.9" fill="#fff" />
<path d="M478.8,1041.4 C478.7,1042.2 480.5,1043.4 480.3,1044.4 C480.1,1045.5 478.0,1045.6 477.9,1046.5 C477.9,1047.4 480.3,1048.0 480.1,1048.8 C479.9,1049.6 477.3,1049.7 477.1,1050.4 C476.9,1051.1 479.3,1051.6 479.1,1052.4 C479.0,1053.1 476.8,1053.4 476.3,1054.3 C475.9,1055.2 477.5,1055.8 476.9,1056.7 C476.2,1057.6 473.5,1057.8 473.0,1058.9 C472.5,1060.1 475.2,1061.5 474.5,1062.4 C473.9,1063.3 470.9,1062.4 469.9,1063.5 C468.9,1064.6 470.2,1067.1 469.5,1067.8 C468.9,1068.5 467.7,1066.3 466.7,1067.0 C465.7,1067.7 465.5,1070.8 464.4,1071.5 C463.4,1072.1 461.9,1069.7 461.3,1070.2 C460.7,1070.6 462.0,1073.3 461.4,1073.8 C460.8,1074.3 459.1,1072.5 458.2,1072.7 C457.3,1072.9 457.9,1074.5 457.0,1074.8 C456.2,1075.1 455.4,1073.7 454.1,1074.0 C452.8,1074.4 452.0,1076.4 450.5,1076.6 C449.0,1076.8 448.2,1074.9 446.7,1075.1 C445.3,1075.2 444.5,1077.2 443.2,1077.2 C441.9,1077.3 441.1,1075.3 440.1,1075.2 C439.1,1075.0 439.1,1076.6 438.3,1076.3 C437.6,1076.1 437.4,1074.2 436.3,1074.0 C435.2,1073.8 434.0,1075.7 432.8,1075.3 C431.5,1074.8 431.2,1072.2 430.0,1071.6 C428.7,1071.0 427.5,1073.0 426.4,1072.3 C425.4,1071.6 425.9,1068.8 424.8,1068.0 C423.6,1067.3 421.7,1069.3 420.6,1068.4 C419.5,1067.4 420.5,1064.6 419.3,1063.2 C418.2,1061.8 415.6,1062.4 414.8,1061.4 C414.0,1060.4 416.1,1059.6 415.5,1058.3 C414.8,1056.9 412.1,1055.9 411.6,1054.6 C411.0,1053.3 413.1,1052.8 412.8,1051.8 C412.5,1050.9 410.1,1050.7 409.9,1049.9 C409.7,1049.1 412.0,1048.4 411.8,1047.7 C411.7,1047.1 409.2,1047.6 409.2,1046.7 C409.1,1045.9 411.7,1044.8 411.6,1043.4 C411.5,1042.0 408.6,1041.1 408.5,1039.7 C408.5,1038.4 411.0,1038.3 411.3,1036.7 C411.7,1035.1 409.9,1033.3 410.3,1031.8 C410.7,1030.4 413.1,1030.7 413.5,1029.4 C414.0,1028.1 411.8,1026.5 412.4,1025.4 C413.0,1024.3 416.0,1025.3 416.7,1023.9 C417.5,1022.6 415.3,1020.1 416.1,1018.8 C416.8,1017.5 419.2,1018.5 420.5,1017.5 C421.9,1016.4 421.6,1014.7 422.6,1013.7 C423.5,1012.7 425.1,1013.3 425.4,1012.5 C425.6,1011.8 424.2,1010.9 423.9,1009.9 C423.7,1008.9 423.7,1008.0 424.1,1007.4 C424.5,1006.7 425.2,1006.4 425.9,1006.6 C426.7,1006.8 426.7,1007.4 427.7,1008.3 C428.6,1009.2 430.1,1011.2 430.7,1011.1 C431.2,1011.1 430.6,1009.4 430.4,1008.2 C430.2,1007.0 429.3,1005.9 429.5,1005.1 C429.7,1004.4 430.5,1004.4 431.4,1004.6 C432.2,1004.9 433.1,1005.5 433.9,1006.4 C434.6,1007.3 434.4,1009.1 435.1,1009.1 C435.8,1009.1 436.4,1006.5 437.4,1006.3 C438.4,1006.1 439.2,1008.3 440.0,1008.1 C440.7,1008.0 440.4,1005.8 441.1,1005.6 C441.9,1005.4 442.7,1007.3 443.7,1007.3 C444.8,1007.4 445.5,1005.8 446.4,1005.9 C447.2,1006.0 447.2,1007.7 448.0,1007.7 C448.7,1007.7 449.3,1006.0 450.2,1006.1 C451.1,1006.2 451.0,1007.8 452.2,1008.2 C453.5,1008.5 454.9,1007.1 456.3,1007.8 C457.7,1008.4 457.5,1011.0 459.1,1011.5 C460.7,1012.1 463.1,1010.0 464.2,1010.6 C465.4,1011.1 463.8,1013.2 464.8,1014.1 C465.7,1014.9 467.8,1013.8 468.8,1014.9 C469.8,1016.0 468.6,1018.6 469.8,1019.7 C471.0,1020.8 474.0,1019.9 474.8,1020.6 C475.5,1021.4 473.4,1022.8 473.6,1023.5 C473.9,1024.2 475.6,1023.3 476.0,1024.1 C476.3,1024.9 474.9,1026.5 475.4,1027.5 C475.9,1028.5 478.2,1028.1 478.6,1029.0 C479.0,1029.9 477.4,1030.8 477.6,1031.8 C477.7,1032.7 479.3,1032.7 479.4,1033.7 C479.5,1034.7 477.7,1035.4 478.0,1036.7 C478.3,1038.0 480.7,1039.3 480.9,1040.2 C481.0,1041.1 478.9,1040.6 478.8,1041.4Z" stroke="#555" stroke-width="0.9" fill="#fff" />
<path d="M595.9,1046.0 C596.2,1047.7 599.3,1046.8 599.4,1047.8 C599.6,1048.7 597.0,1049.6 596.7,1050.8 C596.3,1052.0 598.0,1052.4 597.7,1053.8 C597.4,1055.2 595.6,1055.8 595.1,1057.5 C594.5,1059.3 595.8,1061.1 595.1,1062.6 C594.4,1064.1 592.2,1063.8 591.6,1065.0 C590.9,1066.3 592.7,1067.9 592.0,1068.8 C591.3,1069.7 588.5,1068.8 588.0,1069.6 C587.5,1070.4 590.0,1072.0 589.5,1072.8 C589.1,1073.6 586.6,1073.0 585.7,1073.6 C584.8,1074.2 586.0,1075.5 585.2,1076.0 C584.4,1076.4 582.2,1075.2 581.5,1076.0 C580.7,1076.9 582.3,1079.5 581.4,1080.3 C580.6,1081.0 578.5,1079.2 577.3,1079.8 C576.2,1080.3 576.4,1082.5 575.6,1082.8 C574.8,1083.2 574.0,1081.0 573.4,1081.3 C572.8,1081.6 573.5,1084.2 572.8,1084.5 C572.0,1084.9 571.1,1082.7 569.8,1083.0 C568.6,1083.3 567.8,1085.8 566.5,1086.1 C565.2,1086.3 564.6,1083.9 563.2,1084.2 C561.8,1084.5 560.6,1087.2 559.4,1087.4 C558.3,1087.6 558.2,1085.3 557.3,1085.2 C556.4,1085.1 556.4,1086.9 555.1,1086.7 C553.9,1086.5 552.5,1084.4 551.0,1084.2 C549.5,1084.0 549.0,1086.4 547.5,1085.9 C545.9,1085.5 545.3,1082.7 543.4,1081.9 C541.4,1081.2 539.3,1082.9 537.8,1082.2 C536.4,1081.5 537.3,1079.4 536.1,1078.5 C535.0,1077.7 533.4,1079.0 532.1,1078.0 C530.9,1077.1 531.3,1075.1 530.0,1073.8 C528.7,1072.4 526.5,1072.5 525.6,1071.2 C524.8,1070.0 526.4,1068.3 525.6,1067.4 C524.9,1066.5 522.3,1067.6 521.9,1066.8 C521.5,1066.1 524.3,1064.9 523.7,1063.8 C523.1,1062.7 519.8,1062.8 519.0,1061.4 C518.3,1060.0 520.2,1058.0 520.0,1056.7 C519.8,1055.3 518.0,1055.6 517.8,1054.7 C517.6,1053.8 519.1,1053.4 518.9,1052.1 C518.8,1050.9 517.0,1049.4 517.0,1048.2 C517.1,1047.0 519.3,1047.0 519.2,1046.1 C519.0,1045.2 516.4,1044.8 516.3,1043.6 C516.2,1042.4 518.5,1041.2 518.8,1040.0 C519.1,1038.8 517.6,1038.6 517.9,1037.7 C518.2,1036.7 520.1,1036.4 520.3,1035.4 C520.5,1034.4 518.4,1033.4 518.8,1032.6 C519.2,1031.7 522.1,1032.1 522.4,1031.0 C522.8,1029.9 520.0,1028.4 520.6,1027.0 C521.2,1025.6 524.2,1025.3 525.3,1024.0 C526.3,1022.7 525.1,1021.3 525.8,1020.5 C526.5,1019.6 527.7,1020.8 528.7,1019.7 C529.8,1018.6 530.0,1016.0 531.2,1014.9 C532.3,1013.8 533.6,1014.8 534.7,1014.1 C535.8,1013.4 535.8,1011.9 536.6,1011.2 C537.4,1010.6 538.5,1011.4 538.7,1010.8 C538.9,1010.1 537.7,1009.1 537.6,1008.0 C537.4,1006.9 537.5,1006.1 537.9,1005.5 C538.4,1004.9 539.2,1004.7 539.9,1004.9 C540.6,1005.2 540.6,1005.8 541.5,1006.8 C542.3,1007.8 543.6,1009.9 544.2,1009.9 C544.7,1009.9 544.3,1008.2 544.2,1007.0 C544.1,1005.7 543.4,1004.5 543.6,1003.8 C543.9,1003.1 544.6,1003.2 545.5,1003.5 C546.3,1003.9 547.2,1004.6 547.8,1005.5 C548.5,1006.5 548.2,1008.2 548.8,1008.2 C549.3,1008.2 549.7,1005.6 550.6,1005.5 C551.6,1005.4 552.5,1007.7 553.5,1007.6 C554.5,1007.4 554.5,1004.9 555.7,1004.7 C556.8,1004.6 558.1,1006.6 559.1,1006.8 C560.1,1006.9 559.8,1005.2 560.6,1005.4 C561.4,1005.5 561.8,1007.3 563.2,1007.5 C564.5,1007.6 566.2,1005.8 567.4,1006.1 C568.6,1006.4 567.7,1008.8 569.0,1009.2 C570.3,1009.5 572.8,1007.6 574.0,1007.9 C575.2,1008.2 574.3,1010.2 574.9,1010.6 C575.4,1011.1 576.1,1009.6 576.8,1010.1 C577.4,1010.6 576.9,1012.5 578.0,1013.1 C579.2,1013.6 581.5,1012.1 582.3,1012.8 C583.1,1013.5 581.5,1016.2 582.2,1016.6 C582.8,1017.1 584.8,1014.4 585.7,1015.0 C586.6,1015.6 585.5,1018.1 586.6,1019.6 C587.7,1021.1 590.3,1021.1 591.1,1022.4 C591.9,1023.7 589.7,1025.3 590.4,1026.1 C591.1,1026.9 594.2,1025.8 594.6,1026.4 C595.0,1027.1 592.2,1028.3 592.6,1029.2 C592.9,1030.2 595.6,1029.5 596.2,1031.1 C596.8,1032.6 595.0,1035.3 595.5,1036.9 C595.9,1038.5 598.2,1037.3 598.3,1039.2 C598.4,1041.0 595.7,1044.3 595.9,1046.0Z" stroke="#555" stroke-width="0.9" fill="#fff" />
<path d="M754.0,1233.6 C754.1,1233.8 756.1,1234.6 756.1,1235.8 C756.1,1237.0 754.3,1237.9 754.0,1239.5 C753.7,1241.0 754.9,1242.1 754.5,1243.6 C754.1,1245.1 752.6,1245.4 752.0,1246.9 C751.5,1248.5 752.4,1249.9 751.8,1251.4 C751.1,1252.8 749.4,1252.8 748.7,1254.0 C748.0,1255.2 749.0,1256.3 748.2,1257.3 C747.3,1258.3 745.4,1257.8 744.4,1259.0 C743.4,1260.3 744.2,1262.7 743.2,1263.7 C742.3,1264.7 740.4,1263.5 739.6,1264.0 C738.9,1264.6 740.3,1266.0 739.5,1266.4 C738.7,1266.8 736.6,1265.1 735.6,1265.9 C734.6,1266.8 735.5,1269.9 734.5,1270.5 C733.5,1271.2 732.1,1268.8 730.6,1269.3 C729.2,1269.7 728.6,1272.4 727.2,1272.9 C725.9,1273.3 724.9,1271.4 723.8,1271.6 C722.7,1271.9 722.6,1273.9 721.8,1274.0 C721.0,1274.1 720.5,1272.1 719.7,1272.2 C718.8,1272.3 718.9,1274.6 717.5,1274.7 C716.1,1274.8 714.1,1272.7 712.7,1272.6 C711.3,1272.5 711.4,1274.3 710.4,1274.2 C709.5,1274.1 709.4,1272.4 707.8,1272.0 C706.2,1271.7 704.0,1272.9 702.5,1272.5 C701.1,1272.1 701.7,1270.6 700.6,1270.1 C699.4,1269.6 698.1,1270.6 696.7,1269.9 C695.3,1269.2 694.9,1267.3 693.6,1266.6 C692.4,1265.8 691.5,1266.8 690.5,1266.0 C689.6,1265.3 690.1,1263.9 689.0,1262.8 C687.8,1261.8 685.8,1262.1 684.8,1260.9 C683.8,1259.6 685.0,1257.7 684.1,1256.7 C683.2,1255.7 680.8,1256.4 680.3,1255.8 C679.7,1255.2 681.4,1254.1 681.2,1253.5 C681.0,1252.9 679.7,1253.6 679.2,1252.8 C678.8,1251.9 679.5,1250.3 679.1,1249.3 C678.6,1248.3 677.2,1249.1 677.0,1247.9 C676.8,1246.6 678.6,1244.5 678.0,1243.2 C677.4,1241.8 674.3,1242.3 674.1,1241.1 C673.8,1240.0 676.7,1238.5 676.7,1237.4 C676.6,1236.4 673.9,1236.8 673.8,1235.7 C673.6,1234.6 675.8,1233.4 676.0,1231.9 C676.1,1230.5 674.5,1229.5 674.6,1228.3 C674.7,1227.0 676.3,1227.0 676.6,1225.6 C677.0,1224.1 675.9,1222.6 676.4,1221.0 C676.9,1219.5 678.7,1219.1 679.2,1217.9 C679.7,1216.6 678.1,1215.8 678.9,1214.7 C679.7,1213.7 682.5,1214.0 683.1,1212.7 C683.7,1211.4 680.9,1209.5 681.9,1208.2 C682.9,1206.9 687.0,1207.7 688.2,1206.4 C689.4,1205.1 687.1,1203.1 687.9,1201.9 C688.8,1200.8 691.8,1201.4 692.5,1200.6 C693.1,1199.8 691.3,1199.0 691.0,1198.0 C690.7,1197.0 690.7,1196.1 691.1,1195.5 C691.5,1194.8 692.3,1194.5 693.0,1194.7 C693.7,1194.9 693.8,1195.5 694.8,1196.4 C695.7,1197.3 697.2,1199.2 697.8,1199.2 C698.3,1199.1 697.7,1197.4 697.4,1196.2 C697.2,1195.0 696.4,1193.9 696.6,1193.2 C696.8,1192.5 697.5,1192.4 698.4,1192.7 C699.3,1192.9 700.2,1193.5 700.9,1194.4 C701.7,1195.3 701.3,1197.3 702.2,1197.1 C703.2,1196.9 704.3,1193.8 705.6,1193.4 C706.8,1193.0 707.6,1195.3 708.7,1195.2 C709.8,1195.1 710.3,1192.8 711.1,1192.7 C711.9,1192.7 711.8,1194.9 712.8,1194.8 C713.7,1194.8 714.5,1192.4 715.7,1192.4 C717.0,1192.5 717.8,1195.0 719.1,1195.1 C720.4,1195.2 720.4,1192.6 722.0,1192.9 C723.6,1193.2 725.3,1195.9 727.2,1196.5 C729.0,1197.1 729.9,1195.3 731.2,1195.9 C732.6,1196.5 732.7,1199.0 733.8,1199.6 C735.0,1200.1 736.0,1198.1 736.8,1198.6 C737.6,1199.2 736.9,1201.8 737.7,1202.2 C738.4,1202.7 739.7,1200.5 740.5,1200.9 C741.2,1201.3 740.3,1203.1 741.3,1204.3 C742.3,1205.4 744.6,1205.4 745.5,1206.6 C746.4,1207.7 744.9,1208.8 745.9,1210.0 C746.8,1211.1 749.6,1211.0 750.4,1212.3 C751.1,1213.5 748.9,1215.4 749.5,1216.3 C750.1,1217.3 752.9,1216.3 753.2,1217.2 C753.5,1218.1 750.8,1219.9 751.1,1220.8 C751.5,1221.8 754.9,1221.0 755.2,1221.9 C755.5,1222.8 752.3,1224.2 752.5,1225.3 C752.8,1226.3 755.9,1226.1 756.2,1227.1 C756.5,1228.2 754.2,1228.9 754.1,1230.5 C754.1,1232.0 755.9,1234.2 755.9,1234.9 C755.9,1235.5 754.0,1233.4 754.0,1233.6Z" stroke="#555" stroke-width="0.9" fill="#fff" />
<path d="M784.6,1331.3 C784.4,1331.8 786.9,1333.6 786.7,1334.8 C786.5,1336.1 783.7,1336.3 783.6,1337.5 C783.5,1338.7 786.2,1340.1 786.1,1341.1 C786.1,1342.0 783.8,1341.2 783.3,1342.2 C782.9,1343.2 784.3,1344.8 783.8,1346.0 C783.3,1347.3 781.4,1347.1 780.8,1348.4 C780.2,1349.7 781.2,1351.6 780.7,1352.5 C780.2,1353.4 779.3,1351.9 778.4,1353.1 C777.5,1354.2 777.3,1357.0 776.2,1358.2 C775.1,1359.5 773.6,1358.3 772.8,1359.2 C772.1,1360.1 773.3,1361.8 772.3,1362.6 C771.3,1363.4 769.1,1362.3 767.8,1363.2 C766.5,1364.1 766.8,1366.6 765.7,1367.3 C764.5,1368.1 763.5,1366.4 762.1,1366.9 C760.7,1367.4 760.1,1369.7 758.8,1369.9 C757.5,1370.2 756.9,1367.7 755.5,1368.3 C754.1,1368.8 753.3,1372.2 751.7,1372.6 C750.1,1373.1 748.7,1370.7 747.6,1370.6 C746.5,1370.5 747.0,1372.0 746.2,1372.0 C745.5,1371.9 745.0,1370.3 743.7,1370.2 C742.4,1370.2 741.4,1372.1 739.8,1371.9 C738.3,1371.6 737.5,1369.4 735.8,1369.0 C734.1,1368.6 732.7,1370.2 731.2,1369.7 C729.7,1369.2 729.6,1367.2 728.3,1366.5 C727.1,1365.9 725.9,1366.9 724.9,1366.3 C723.9,1365.7 724.4,1364.2 723.5,1363.5 C722.5,1362.9 721.2,1364.0 720.0,1363.1 C718.9,1362.1 718.6,1359.8 717.6,1358.7 C716.5,1357.6 715.2,1358.5 714.6,1357.6 C714.0,1356.6 715.4,1355.1 714.5,1354.0 C713.6,1353.0 710.9,1353.5 710.0,1352.3 C709.1,1351.1 710.8,1349.4 710.2,1347.9 C709.7,1346.4 707.6,1346.2 707.1,1344.7 C706.7,1343.3 708.6,1341.7 708.2,1340.6 C707.8,1339.5 705.4,1340.3 705.1,1339.3 C704.8,1338.3 706.7,1336.7 706.7,1335.4 C706.6,1334.1 704.8,1334.2 705.0,1332.7 C705.1,1331.3 707.6,1329.9 707.6,1328.1 C707.5,1326.4 704.5,1325.6 704.6,1324.1 C704.7,1322.7 707.6,1322.0 708.1,1320.8 C708.6,1319.6 706.6,1319.1 707.0,1318.0 C707.4,1316.9 709.4,1316.6 709.9,1315.5 C710.4,1314.4 708.7,1313.8 709.4,1312.6 C710.0,1311.5 712.2,1311.0 713.0,1309.7 C713.9,1308.4 712.8,1306.9 713.6,1306.0 C714.4,1305.2 716.3,1306.7 717.1,1305.6 C717.9,1304.5 716.5,1301.8 717.5,1300.7 C718.6,1299.7 721.3,1301.0 722.3,1300.3 C723.2,1299.7 721.5,1298.3 722.3,1297.5 C723.0,1296.7 725.6,1297.2 726.1,1296.4 C726.7,1295.7 725.1,1294.7 724.9,1293.7 C724.7,1292.6 724.8,1291.8 725.2,1291.2 C725.7,1290.6 726.5,1290.3 727.2,1290.5 C727.9,1290.8 727.9,1291.4 728.8,1292.4 C729.7,1293.4 731.0,1295.4 731.5,1295.4 C732.1,1295.5 731.6,1293.7 731.5,1292.5 C731.4,1291.3 730.6,1290.1 730.9,1289.4 C731.1,1288.7 731.9,1288.7 732.8,1289.0 C733.6,1289.4 734.5,1290.1 735.1,1291.0 C735.8,1291.9 735.6,1293.7 736.1,1293.7 C736.7,1293.6 737.0,1291.0 737.8,1290.9 C738.6,1290.8 739.1,1293.6 740.2,1293.3 C741.2,1293.1 741.9,1289.9 743.0,1289.7 C744.1,1289.6 744.4,1292.5 745.6,1292.6 C746.7,1292.6 748.0,1290.1 748.9,1290.2 C749.9,1290.2 749.6,1292.8 750.3,1292.9 C751.1,1293.0 751.5,1290.4 752.7,1290.6 C753.9,1290.8 754.9,1293.5 756.3,1293.9 C757.7,1294.3 758.6,1292.1 759.7,1292.6 C760.8,1293.0 760.6,1295.6 761.8,1296.1 C763.0,1296.6 764.6,1294.6 765.6,1295.1 C766.6,1295.5 766.0,1297.7 766.9,1298.4 C767.9,1299.1 769.4,1297.9 770.3,1298.7 C771.2,1299.4 770.6,1301.5 771.5,1302.2 C772.4,1303.0 773.9,1301.2 774.9,1302.4 C776.0,1303.6 775.9,1307.2 776.8,1308.3 C777.8,1309.4 779.1,1307.2 779.6,1307.8 C780.1,1308.4 778.9,1310.2 779.3,1311.1 C779.7,1311.9 781.4,1311.3 781.7,1312.1 C782.0,1312.9 780.3,1313.8 780.9,1314.9 C781.5,1316.1 784.1,1316.3 784.6,1317.8 C785.2,1319.4 783.1,1321.3 783.5,1322.7 C783.9,1324.1 786.4,1323.9 786.4,1325.0 C786.5,1326.1 783.7,1326.8 783.9,1328.3 C784.1,1329.8 787.2,1331.8 787.4,1332.4 C787.5,1333.0 784.7,1330.8 784.6,1331.3Z" stroke="#555" stroke-width="0.9" fill="#fff" />
<path d="M691.9,1443.7 C692.1,1445.8 694.3,1446.7 694.3,1447.8 C694.2,1448.9 691.7,1448.3 691.5,1449.4 C691.3,1450.4 693.5,1451.9 693.2,1453.0 C692.9,1454.2 690.4,1453.9 690.0,1455.0 C689.7,1456.0 691.6,1457.4 691.4,1458.3 C691.1,1459.1 689.3,1458.4 688.7,1459.3 C688.1,1460.2 689.3,1461.7 688.4,1462.8 C687.5,1464.0 684.7,1463.7 684.0,1464.9 C683.3,1466.1 685.3,1468.3 684.8,1468.9 C684.2,1469.4 681.8,1467.1 681.1,1467.8 C680.4,1468.4 681.9,1471.7 681.4,1472.2 C680.9,1472.8 679.2,1470.1 678.5,1470.5 C677.8,1470.9 679.1,1473.5 678.0,1474.2 C676.9,1474.9 673.9,1473.5 672.9,1474.1 C671.9,1474.6 673.5,1476.5 672.8,1476.9 C672.1,1477.2 670.4,1475.6 669.6,1475.8 C668.8,1476.1 669.6,1477.8 668.8,1478.0 C667.9,1478.2 666.5,1476.5 665.1,1476.8 C663.7,1477.2 662.9,1479.6 661.7,1479.7 C660.6,1479.8 660.5,1477.2 659.4,1477.3 C658.3,1477.4 657.4,1480.1 656.2,1480.0 C655.0,1480.0 654.6,1477.4 653.4,1477.2 C652.2,1477.0 651.4,1479.4 650.1,1479.0 C648.9,1478.5 649.0,1475.6 647.1,1475.0 C645.2,1474.4 642.2,1476.7 640.7,1476.1 C639.2,1475.5 640.4,1472.9 639.5,1472.1 C638.5,1471.3 637.1,1472.9 636.0,1472.1 C634.9,1471.2 635.0,1469.0 633.9,1467.9 C632.9,1466.8 631.3,1467.4 630.7,1466.6 C630.2,1465.7 632.1,1464.2 631.4,1463.5 C630.7,1462.9 627.8,1464.2 627.2,1463.2 C626.7,1462.3 629.0,1460.0 628.5,1458.9 C628.0,1457.9 625.0,1459.5 624.5,1458.1 C624.0,1456.6 626.3,1453.1 625.8,1451.5 C625.3,1449.9 622.3,1450.8 622.0,1449.9 C621.8,1449.0 624.5,1448.2 624.5,1447.1 C624.5,1446.0 622.0,1446.1 622.1,1444.5 C622.2,1442.9 625.0,1440.8 625.1,1439.0 C625.2,1437.3 622.3,1437.1 622.5,1435.8 C622.7,1434.5 625.6,1433.9 626.1,1432.6 C626.6,1431.3 625.0,1429.9 625.2,1429.2 C625.5,1428.4 627.0,1429.5 627.4,1428.7 C627.9,1428.0 626.7,1426.6 627.5,1425.4 C628.2,1424.2 630.3,1423.7 631.2,1422.6 C632.1,1421.4 631.2,1420.2 631.8,1419.6 C632.4,1419.1 633.9,1420.5 634.4,1419.9 C634.9,1419.2 633.5,1417.0 634.2,1416.4 C634.9,1415.9 637.2,1417.6 637.9,1417.1 C638.5,1416.5 636.8,1414.4 637.4,1413.7 C638.0,1412.9 640.4,1413.9 640.9,1413.3 C641.3,1412.7 639.8,1411.6 639.6,1410.5 C639.5,1409.5 639.5,1408.7 639.9,1408.1 C640.4,1407.4 641.2,1407.2 641.9,1407.4 C642.6,1407.7 642.6,1408.3 643.5,1409.3 C644.4,1410.2 645.7,1412.3 646.3,1412.3 C646.8,1412.3 646.3,1410.5 646.2,1409.3 C646.1,1408.1 645.3,1406.9 645.6,1406.2 C645.8,1405.5 646.6,1405.5 647.4,1405.9 C648.3,1406.2 649.2,1406.9 649.8,1407.8 C650.5,1408.8 650.0,1410.4 650.8,1410.5 C651.6,1410.5 652.8,1408.1 653.8,1408.0 C654.7,1407.9 654.1,1409.9 655.4,1409.8 C656.8,1409.8 658.9,1407.7 660.4,1407.8 C661.8,1407.8 661.6,1410.0 662.8,1410.1 C663.9,1410.3 665.3,1408.4 666.2,1408.5 C667.1,1408.6 666.2,1410.3 667.4,1410.7 C668.6,1411.2 671.2,1410.4 672.4,1410.9 C673.6,1411.4 672.6,1412.9 673.5,1413.3 C674.5,1413.7 676.2,1412.6 677.0,1413.1 C677.8,1413.5 676.9,1415.3 677.5,1415.7 C678.1,1416.1 679.3,1414.4 680.1,1415.1 C680.9,1415.8 680.5,1418.5 681.3,1419.2 C682.2,1419.9 683.8,1418.0 684.4,1418.5 C685.0,1419.1 683.6,1421.1 684.3,1422.0 C685.0,1423.0 687.2,1422.2 687.9,1423.3 C688.6,1424.3 687.0,1426.0 687.8,1427.4 C688.6,1428.8 691.2,1428.9 691.8,1430.3 C692.5,1431.8 690.8,1433.4 691.1,1434.7 C691.5,1436.1 693.3,1435.3 693.4,1437.1 C693.6,1438.9 691.7,1441.6 691.9,1443.7Z" stroke="#555" stroke-width="0.9" fill="#fff" />
<path d="M850.1,1474.1 C850.1,1475.6 852.7,1476.5 852.7,1477.6 C852.8,1478.8 850.6,1479.1 850.3,1480.0 C850.0,1480.9 851.6,1481.4 851.2,1482.2 C850.9,1483.0 848.6,1482.9 848.4,1484.0 C848.3,1485.1 850.8,1486.9 850.5,1487.8 C850.2,1488.7 847.6,1487.6 847.0,1488.6 C846.4,1489.7 848.1,1492.0 847.5,1493.2 C846.9,1494.3 844.4,1493.5 843.9,1494.2 C843.3,1495.0 845.2,1496.2 844.7,1496.9 C844.2,1497.7 842.6,1496.8 841.4,1497.9 C840.2,1499.0 840.0,1501.5 838.7,1502.4 C837.4,1503.3 835.8,1501.7 835.0,1502.4 C834.3,1503.1 835.8,1505.4 835.1,1505.8 C834.4,1506.2 832.3,1503.8 831.5,1504.3 C830.8,1504.7 832.4,1507.5 831.4,1508.0 C830.4,1508.4 827.7,1505.9 826.5,1506.3 C825.3,1506.7 826.2,1510.0 825.5,1510.1 C824.7,1510.3 823.7,1507.0 822.7,1507.2 C821.7,1507.4 821.2,1511.0 820.5,1511.2 C819.7,1511.4 819.4,1508.5 818.8,1508.4 C818.2,1508.4 818.2,1510.8 817.4,1510.8 C816.6,1510.8 815.6,1508.3 814.6,1508.3 C813.6,1508.3 813.6,1510.9 812.5,1510.9 C811.5,1510.9 810.7,1508.7 809.5,1508.4 C808.3,1508.1 807.9,1509.7 806.6,1509.2 C805.3,1508.7 804.5,1506.6 803.0,1506.1 C801.4,1505.6 800.1,1507.3 798.8,1506.6 C797.5,1505.9 797.7,1503.3 796.5,1502.5 C795.3,1501.7 793.6,1503.5 792.7,1502.7 C791.7,1501.8 792.8,1499.1 791.8,1498.3 C790.8,1497.4 788.3,1498.8 787.8,1498.3 C787.3,1497.7 789.8,1496.3 789.2,1495.5 C788.6,1494.7 785.6,1495.5 784.8,1494.1 C783.9,1492.8 785.7,1490.1 785.0,1488.7 C784.3,1487.2 781.6,1487.8 781.1,1486.9 C780.7,1485.9 782.8,1484.8 782.6,1483.9 C782.5,1483.0 780.4,1483.3 780.4,1482.5 C780.3,1481.6 782.6,1480.8 782.3,1479.7 C782.0,1478.5 778.9,1478.1 778.8,1477.0 C778.7,1475.8 781.9,1474.8 781.9,1473.8 C781.9,1472.7 778.9,1472.5 778.8,1471.8 C778.7,1471.0 781.2,1470.9 781.5,1469.9 C781.7,1468.9 779.8,1467.9 780.1,1466.7 C780.5,1465.6 783.1,1465.2 783.3,1464.2 C783.5,1463.1 780.7,1462.4 781.0,1461.4 C781.3,1460.3 783.9,1460.2 784.7,1458.9 C785.5,1457.5 784.3,1455.9 785.0,1454.8 C785.6,1453.8 787.5,1454.4 788.0,1453.6 C788.5,1452.9 787.1,1451.7 787.5,1451.0 C788.0,1450.4 789.4,1451.2 790.3,1450.4 C791.1,1449.7 790.6,1448.0 791.6,1447.1 C792.6,1446.3 794.4,1447.0 795.4,1446.2 C796.3,1445.5 795.5,1444.0 796.2,1443.3 C796.9,1442.6 798.5,1443.5 798.8,1442.9 C799.1,1442.2 797.8,1441.1 797.6,1440.1 C797.5,1439.0 797.5,1438.2 798.0,1437.6 C798.5,1437.0 799.2,1436.8 799.9,1437.0 C800.6,1437.3 800.7,1437.9 801.5,1438.9 C802.4,1439.9 803.7,1441.9 804.2,1442.0 C804.8,1442.0 804.3,1440.2 804.2,1439.0 C804.1,1437.8 803.4,1436.6 803.7,1435.9 C803.9,1435.2 804.7,1435.2 805.5,1435.6 C806.4,1435.9 807.2,1436.5 807.9,1437.6 C808.6,1438.6 808.5,1441.0 809.0,1440.9 C809.5,1440.9 809.5,1437.4 810.4,1437.2 C811.2,1437.0 812.1,1440.2 813.3,1440.1 C814.5,1440.1 815.4,1437.1 816.3,1437.0 C817.2,1436.9 817.0,1439.3 817.8,1439.5 C818.6,1439.7 819.5,1437.7 820.3,1437.8 C821.0,1437.9 820.9,1439.8 821.5,1439.9 C822.1,1440.0 822.5,1438.0 823.5,1438.4 C824.5,1438.7 825.2,1441.2 826.5,1441.5 C827.8,1441.9 829.3,1439.7 830.0,1439.9 C830.7,1440.2 829.4,1442.4 830.1,1442.8 C830.8,1443.2 832.2,1440.9 833.6,1441.8 C834.9,1442.7 835.3,1446.2 836.9,1447.3 C838.5,1448.4 840.6,1446.6 841.5,1447.2 C842.3,1447.7 840.5,1449.4 841.1,1450.3 C841.8,1451.2 844.0,1450.7 844.8,1451.7 C845.5,1452.8 844.1,1454.8 844.8,1455.8 C845.5,1456.7 847.9,1455.4 848.4,1456.5 C848.9,1457.5 846.6,1459.8 847.2,1461.0 C847.8,1462.3 851.0,1461.2 851.4,1462.7 C851.8,1464.2 849.1,1467.1 849.4,1468.6 C849.7,1470.1 852.8,1469.1 853.0,1470.2 C853.1,1471.3 850.1,1472.6 850.1,1474.1Z" stroke="#555" stroke-width="0.9" fill="#fff" />
<rect x="495.00" y="85.20" width="349.50" height="4.90" fill="#000"/>
<rect x="495.00" y="85.20" width="5.10" height="158.20" fill="#000"/>
<rect x="839.60" y="85.20" width="4.90" height="158.20" fill="#000"/>
<rect x="495.00" y="239.00" width="196.00" height="4.90" fill="#000"/>
<rect x="718.00" y="239.00" width="126.50" height="4.90" fill="#000"/>
<rect x="494.80" y="113.60" width="5.60" height="101.40" fill="#fff"/>
<line x1="495.50" y1="113.60" x2="495.50" y2="215.00" stroke="#7a7a7a" stroke-width="1.0" stroke-linecap="butt"/>
<line x1="497.50" y1="113.60" x2="497.50" y2="215.00" stroke="#7a7a7a" stroke-width="1.0" stroke-linecap="butt"/>
<line x1="499.50" y1="113.60" x2="499.50" y2="215.00" stroke="#7a7a7a" stroke-width="1.0" stroke-linecap="butt"/>
<line x1="493.50" y1="113.60" x2="501.70" y2="113.60" stroke="#333" stroke-width="1.0" stroke-linecap="butt"/>
<line x1="493.50" y1="215.00" x2="501.70" y2="215.00" stroke="#333" stroke-width="1.0" stroke-linecap="butt"/>
<rect x="627.70" y="238.80" width="44.90" height="4.40" fill="#fff"/>
<line x1="627.70" y1="239.50" x2="672.60" y2="239.50" stroke="#7a7a7a" stroke-width="1.0" stroke-linecap="butt"/>
<line x1="627.70" y1="240.50" x2="672.60" y2="240.50" stroke="#7a7a7a" stroke-width="1.0" stroke-linecap="butt"/>
<line x1="627.70" y1="242.50" x2="672.60" y2="242.50" stroke="#7a7a7a" stroke-width="1.0" stroke-linecap="butt"/>
<line x1="627.70" y1="237.50" x2="627.70" y2="244.50" stroke="#333" stroke-width="1.0" stroke-linecap="butt"/>
<line x1="672.60" y1="237.50" x2="672.60" y2="244.50" stroke="#333" stroke-width="1.0" stroke-linecap="butt"/>
<line x1="650.80" y1="237.50" x2="650.80" y2="244.50" stroke="#333" stroke-width="1.0" stroke-linecap="butt"/>
<line x1="718.00" y1="238.60" x2="718.00" y2="266.00" stroke="#000" stroke-width="1.9" stroke-linecap="butt"/>
<path d="M691.00,243.40 A27.00,22.60 0 0 0 718.00,266.00" stroke="#222" stroke-width="0.95" fill="none" />
<line x1="309.00" y1="518.40" x2="324.80" y2="518.40" stroke="#000" stroke-width="1.9" stroke-linecap="butt"/>
<line x1="350.90" y1="518.40" x2="552.00" y2="518.40" stroke="#000" stroke-width="1.9" stroke-linecap="butt"/>
<line x1="324.40" y1="517.50" x2="324.40" y2="545.70" stroke="#000" stroke-width="1.9" stroke-linecap="butt"/>
<path d="M350.90,518.40 A26.50,26.50 0 0 1 324.40,544.90" stroke="#222" stroke-width="0.95" fill="none" />
<line x1="309.00" y1="671.70" x2="411.20" y2="671.70" stroke="#000" stroke-width="1.9" stroke-linecap="butt"/>
<path d="M411.20,671.70 A27.00,27.00 0 0 1 438.20,644.70" stroke="#222" stroke-width="0.95" fill="none" />
<path d="M438.2,644.7 L438.2,671.7 L456,671.7" stroke="#000" stroke-width="1.9" fill="none" />
<rect x="441.30" y="590.80" width="14.00" height="27.40" fill="none" stroke="#444" stroke-width="1.0" rx="0.8"/>
<line x1="441.30" y1="604.50" x2="455.30" y2="604.50" stroke="#333" stroke-width="1.0" stroke-linecap="butt"/>
<line x1="448.30" y1="590.80" x2="448.30" y2="618.20" stroke="#222" stroke-width="1.0" stroke-linecap="butt"/>
<path d="M450.7,600.5 L454.7,604.5 L450.7,608.5" stroke="#222" stroke-width="1.1" fill="none" />
<rect x="441.30" y="772.20" width="14.10" height="31.70" fill="none" stroke="#444" stroke-width="1.0" rx="0.8"/>
<line x1="441.30" y1="788.05" x2="455.40" y2="788.05" stroke="#333" stroke-width="1.0" stroke-linecap="butt"/>
<line x1="448.35" y1="772.20" x2="448.35" y2="803.90" stroke="#222" stroke-width="1.0" stroke-linecap="butt"/>
<path d="M450.79999999999995,784.05 L454.79999999999995,788.05 L450.79999999999995,792.05" stroke="#222" stroke-width="1.1" fill="none" />
<rect x="552.00" y="518.00" width="4.70" height="6.10" fill="#000"/>
<rect x="552.00" y="524.10" width="4.70" height="30.80" fill="#fff"/>
<line x1="552.50" y1="524.10" x2="552.50" y2="554.90" stroke="#7a7a7a" stroke-width="1.0" stroke-linecap="butt"/>
<line x1="554.50" y1="524.10" x2="554.50" y2="554.90" stroke="#7a7a7a" stroke-width="1.0" stroke-linecap="butt"/>
<line x1="556.50" y1="524.10" x2="556.50" y2="554.90" stroke="#7a7a7a" stroke-width="1.0" stroke-linecap="butt"/>
<line x1="550.70" y1="524.10" x2="558.00" y2="524.10" stroke="#333" stroke-width="1.0" stroke-linecap="butt"/>
<line x1="550.70" y1="554.90" x2="558.00" y2="554.90" stroke="#333" stroke-width="1.0" stroke-linecap="butt"/>
<rect x="552.00" y="554.90" width="4.70" height="37.60" fill="#000"/>
<path d="M556.70,592.50 A26.50,26.50 0 0 1 579.50,619.60" stroke="#222" stroke-width="0.95" fill="none" />
<line x1="552.00" y1="619.60" x2="579.50" y2="619.60" stroke="#000" stroke-width="1.9" stroke-linecap="butt"/>
<rect x="552.00" y="619.60" width="4.70" height="8.10" fill="#000"/>
<rect x="552.00" y="518.00" width="8.60" height="4.30" fill="#000"/>
<rect x="560.60" y="518.20" width="74.30" height="4.60" fill="#fff"/>
<line x1="560.60" y1="518.50" x2="634.90" y2="518.50" stroke="#7a7a7a" stroke-width="1.0" stroke-linecap="butt"/>
<line x1="560.60" y1="520.50" x2="634.90" y2="520.50" stroke="#7a7a7a" stroke-width="1.0" stroke-linecap="butt"/>
<line x1="560.60" y1="522.50" x2="634.90" y2="522.50" stroke="#7a7a7a" stroke-width="1.0" stroke-linecap="butt"/>
<line x1="560.60" y1="516.90" x2="560.60" y2="524.10" stroke="#333" stroke-width="1.0" stroke-linecap="butt"/>
<line x1="634.90" y1="516.90" x2="634.90" y2="524.10" stroke="#333" stroke-width="1.0" stroke-linecap="butt"/>
<line x1="585.40" y1="516.90" x2="585.40" y2="524.10" stroke="#333" stroke-width="1.0" stroke-linecap="butt"/>
<line x1="610.90" y1="516.90" x2="610.90" y2="524.10" stroke="#333" stroke-width="1.0" stroke-linecap="butt"/>
<rect x="634.90" y="518.00" width="64.00" height="4.30" fill="#000"/>
<rect x="698.90" y="518.20" width="55.70" height="4.40" fill="#fff"/>
<line x1="698.90" y1="518.50" x2="754.60" y2="518.50" stroke="#7a7a7a" stroke-width="1.0" stroke-linecap="butt"/>
<line x1="698.90" y1="520.50" x2="754.60" y2="520.50" stroke="#7a7a7a" stroke-width="1.0" stroke-linecap="butt"/>
<line x1="698.90" y1="522.50" x2="754.60" y2="522.50" stroke="#7a7a7a" stroke-width="1.0" stroke-linecap="butt"/>
<line x1="698.90" y1="516.90" x2="698.90" y2="523.90" stroke="#333" stroke-width="1.0" stroke-linecap="butt"/>
<line x1="754.60" y1="516.90" x2="754.60" y2="523.90" stroke="#333" stroke-width="1.0" stroke-linecap="butt"/>
<line x1="726.60" y1="516.90" x2="726.60" y2="523.90" stroke="#333" stroke-width="1.0" stroke-linecap="butt"/>
<rect x="754.60" y="518.00" width="41.40" height="4.30" fill="#000"/>
<rect x="791.00" y="518.00" width="5.00" height="113.00" fill="#000"/>
<rect x="791.00" y="631.00" width="5.00" height="34.40" fill="#fff"/>
<line x1="791.50" y1="631.00" x2="791.50" y2="665.40" stroke="#7a7a7a" stroke-width="1.0" stroke-linecap="butt"/>
<line x1="793.50" y1="631.00" x2="793.50" y2="665.40" stroke="#7a7a7a" stroke-width="1.0" stroke-linecap="butt"/>
<line x1="795.50" y1="631.00" x2="795.50" y2="665.40" stroke="#7a7a7a" stroke-width="1.0" stroke-linecap="butt"/>
<line x1="789.70" y1="631.00" x2="797.30" y2="631.00" stroke="#333" stroke-width="1.0" stroke-linecap="butt"/>
<line x1="789.70" y1="665.40" x2="797.30" y2="665.40" stroke="#333" stroke-width="1.0" stroke-linecap="butt"/>
<line x1="789.70" y1="647.90" x2="797.30" y2="647.90" stroke="#333" stroke-width="1.0" stroke-linecap="butt"/>
<rect x="791.00" y="693.00" width="5.00" height="13.70" fill="#000"/>
<rect x="791.00" y="706.70" width="5.00" height="22.30" fill="#fff"/>
<line x1="791.50" y1="706.70" x2="791.50" y2="729.00" stroke="#7a7a7a" stroke-width="1.0" stroke-linecap="butt"/>
<line x1="793.50" y1="706.70" x2="793.50" y2="729.00" stroke="#7a7a7a" stroke-width="1.0" stroke-linecap="butt"/>
<line x1="795.50" y1="706.70" x2="795.50" y2="729.00" stroke="#7a7a7a" stroke-width="1.0" stroke-linecap="butt"/>
<line x1="789.70" y1="706.70" x2="797.30" y2="706.70" stroke="#333" stroke-width="1.0" stroke-linecap="butt"/>
<line x1="789.70" y1="729.00" x2="797.30" y2="729.00" stroke="#333" stroke-width="1.0" stroke-linecap="butt"/>
<rect x="791.00" y="729.00" width="5.00" height="13.50" fill="#000"/>
<rect x="791.00" y="742.50" width="5.00" height="53.40" fill="#fff"/>
<line x1="791.50" y1="742.50" x2="791.50" y2="795.90" stroke="#7a7a7a" stroke-width="1.0" stroke-linecap="butt"/>
<line x1="793.50" y1="742.50" x2="793.50" y2="795.90" stroke="#7a7a7a" stroke-width="1.0" stroke-linecap="butt"/>
<line x1="795.50" y1="742.50" x2="795.50" y2="795.90" stroke="#7a7a7a" stroke-width="1.0" stroke-linecap="butt"/>
<line x1="789.70" y1="742.50" x2="797.30" y2="742.50" stroke="#333" stroke-width="1.0" stroke-linecap="butt"/>
<line x1="789.70" y1="795.90" x2="797.30" y2="795.90" stroke="#333" stroke-width="1.0" stroke-linecap="butt"/>
<line x1="789.70" y1="769.60" x2="797.30" y2="769.60" stroke="#333" stroke-width="1.0" stroke-linecap="butt"/>
<rect x="791.00" y="795.90" width="5.00" height="57.40" fill="#000"/>
<rect x="791.00" y="853.30" width="5.00" height="53.90" fill="#fff"/>
<line x1="791.50" y1="853.30" x2="791.50" y2="907.20" stroke="#7a7a7a" stroke-width="1.0" stroke-linecap="butt"/>
<line x1="793.50" y1="853.30" x2="793.50" y2="907.20" stroke="#7a7a7a" stroke-width="1.0" stroke-linecap="butt"/>
<line x1="795.50" y1="853.30" x2="795.50" y2="907.20" stroke="#7a7a7a" stroke-width="1.0" stroke-linecap="butt"/>
<line x1="789.70" y1="853.30" x2="797.30" y2="853.30" stroke="#333" stroke-width="1.0" stroke-linecap="butt"/>
<line x1="789.70" y1="907.20" x2="797.30" y2="907.20" stroke="#333" stroke-width="1.0" stroke-linecap="butt"/>
<line x1="789.70" y1="880.70" x2="797.30" y2="880.70" stroke="#333" stroke-width="1.0" stroke-linecap="butt"/>
<rect x="791.00" y="907.20" width="5.00" height="185.00" fill="#000"/>
<rect x="642.50" y="1088.30" width="26.50" height="3.90" fill="#000"/>
<rect x="669.00" y="1088.40" width="100.00" height="3.70" fill="#fff"/>
<line x1="669.00" y1="1088.50" x2="769.00" y2="1088.50" stroke="#7a7a7a" stroke-width="1.0" stroke-linecap="butt"/>
<line x1="669.00" y1="1090.50" x2="769.00" y2="1090.50" stroke="#7a7a7a" stroke-width="1.0" stroke-linecap="butt"/>
<line x1="669.00" y1="1091.50" x2="769.00" y2="1091.50" stroke="#7a7a7a" stroke-width="1.0" stroke-linecap="butt"/>
<line x1="669.00" y1="1087.10" x2="669.00" y2="1093.40" stroke="#333" stroke-width="1.0" stroke-linecap="butt"/>
<line x1="769.00" y1="1087.10" x2="769.00" y2="1093.40" stroke="#333" stroke-width="1.0" stroke-linecap="butt"/>
<line x1="701.60" y1="1087.10" x2="701.60" y2="1093.40" stroke="#333" stroke-width="1.0" stroke-linecap="butt"/>
<line x1="737.20" y1="1087.10" x2="737.20" y2="1093.40" stroke="#333" stroke-width="1.0" stroke-linecap="butt"/>
<rect x="769.00" y="1088.30" width="27.00" height="3.90" fill="#000"/>
<rect x="642.30" y="960.50" width="4.70" height="131.70" fill="#000"/>
<line x1="643.00" y1="961.10" x2="664.40" y2="961.10" stroke="#000" stroke-width="1.9" stroke-linecap="butt"/>
<line x1="664.40" y1="960.20" x2="664.40" y2="988.30" stroke="#000" stroke-width="1.9" stroke-linecap="butt"/>
<path d="M664.40,988.30 A27.50,27.50 0 0 0 692.00,961.10" stroke="#222" stroke-width="0.95" fill="none" />
<line x1="692.00" y1="961.40" x2="792.00" y2="961.40" stroke="#000" stroke-width="1.9" stroke-linecap="butt"/>
<rect x="538.90" y="956.90" width="6.40" height="8.50" fill="#000"/>
<rect x="545.30" y="960.60" width="89.10" height="4.60" fill="#fff"/>
<line x1="545.30" y1="961.50" x2="634.40" y2="961.50" stroke="#7a7a7a" stroke-width="1.0" stroke-linecap="butt"/>
<line x1="545.30" y1="962.50" x2="634.40" y2="962.50" stroke="#7a7a7a" stroke-width="1.0" stroke-linecap="butt"/>
<line x1="545.30" y1="964.50" x2="634.40" y2="964.50" stroke="#7a7a7a" stroke-width="1.0" stroke-linecap="butt"/>
<line x1="545.30" y1="959.30" x2="545.30" y2="966.50" stroke="#333" stroke-width="1.0" stroke-linecap="butt"/>
<line x1="634.40" y1="959.30" x2="634.40" y2="966.50" stroke="#333" stroke-width="1.0" stroke-linecap="butt"/>
<line x1="574.30" y1="959.30" x2="574.30" y2="966.50" stroke="#333" stroke-width="1.0" stroke-linecap="butt"/>
<line x1="605.40" y1="959.30" x2="605.40" y2="966.50" stroke="#333" stroke-width="1.0" stroke-linecap="butt"/>
<rect x="634.40" y="960.40" width="12.00" height="5.00" fill="#000"/>
<rect x="539.40" y="815.60" width="4.60" height="105.60" fill="#000"/>
<rect x="539.60" y="921.20" width="4.30" height="36.10" fill="#fff"/>
<line x1="540.50" y1="921.20" x2="540.50" y2="957.30" stroke="#7a7a7a" stroke-width="1.0" stroke-linecap="butt"/>
<line x1="541.50" y1="921.20" x2="541.50" y2="957.30" stroke="#7a7a7a" stroke-width="1.0" stroke-linecap="butt"/>
<line x1="543.50" y1="921.20" x2="543.50" y2="957.30" stroke="#7a7a7a" stroke-width="1.0" stroke-linecap="butt"/>
<line x1="538.30" y1="921.20" x2="545.20" y2="921.20" stroke="#333" stroke-width="1.0" stroke-linecap="butt"/>
<line x1="538.30" y1="957.30" x2="545.20" y2="957.30" stroke="#333" stroke-width="1.0" stroke-linecap="butt"/>
<line x1="660.10" y1="818.00" x2="660.10" y2="843.00" stroke="#000" stroke-width="2.2" stroke-linecap="butt"/>
<line x1="660.10" y1="869.90" x2="660.10" y2="961.50" stroke="#000" stroke-width="2.0" stroke-linecap="butt"/>
<line x1="632.60" y1="842.80" x2="660.10" y2="842.80" stroke="#000" stroke-width="1.9" stroke-linecap="butt"/>
<path d="M632.60,842.80 A27.50,27.50 0 0 0 660.10,870.30" stroke="#222" stroke-width="0.95" fill="none" />
<line x1="539.50" y1="818.80" x2="660.20" y2="818.80" stroke="#000" stroke-width="2.0" stroke-linecap="butt"/>
<line x1="539.50" y1="837.80" x2="551.00" y2="837.80" stroke="#000" stroke-width="2.0" stroke-linecap="butt"/>
<line x1="551.00" y1="837.80" x2="592.40" y2="837.80" stroke="#000" stroke-width="0.9" stroke-linecap="butt"/>
<line x1="592.40" y1="837.80" x2="660.20" y2="837.80" stroke="#000" stroke-width="2.0" stroke-linecap="butt"/>
<line x1="599.30" y1="818.80" x2="599.30" y2="837.80" stroke="#000" stroke-width="2.0" stroke-linecap="butt"/>
<rect x="539.40" y="815.00" width="19.60" height="4.50" fill="#000"/>
<rect x="552.70" y="770.30" width="5.50" height="13.80" fill="#fff" stroke="#333" stroke-width="0.8" rx="0"/>
<line x1="555.45" y1="770.30" x2="555.45" y2="784.10" stroke="#666" stroke-width="0.6" stroke-linecap="butt"/>
<rect x="552.50" y="782.50" width="6.00" height="3.00" fill="#000"/>
<path d="M552.50,784.10 A27.60,27.60 0 0 1 579.80,811.70" stroke="#222" stroke-width="0.95" fill="none" />
<line x1="552.50" y1="811.70" x2="579.80" y2="811.70" stroke="#000" stroke-width="1.9" stroke-linecap="butt"/>
<rect x="552.20" y="811.00" width="6.80" height="7.00" fill="#000"/>
<rect x="455.40" y="623.30" width="101.70" height="4.40" fill="#000"/>
<rect x="455.40" y="623.30" width="4.40" height="49.70" fill="#000"/>
<path d="M449.5,673 L466.1,673 L466.1,685.2 L461,685.2 L461,709.5 L466.1,709.5 L466.1,721.8 L449.5,721.8 Z" stroke="none" stroke-width="0" fill="#000" />
<line x1="465.50" y1="685.20" x2="465.50" y2="709.50" stroke="#555" stroke-width="0.8" stroke-linecap="butt"/>
<rect x="455.40" y="721.80" width="4.40" height="7.60" fill="#000"/>
<rect x="455.50" y="729.40" width="4.20" height="32.00" fill="#fff"/>
<line x1="456.50" y1="729.40" x2="456.50" y2="761.40" stroke="#7a7a7a" stroke-width="1.0" stroke-linecap="butt"/>
<line x1="457.50" y1="729.40" x2="457.50" y2="761.40" stroke="#7a7a7a" stroke-width="1.0" stroke-linecap="butt"/>
<line x1="459.50" y1="729.40" x2="459.50" y2="761.40" stroke="#7a7a7a" stroke-width="1.0" stroke-linecap="butt"/>
<line x1="454.20" y1="729.40" x2="461.00" y2="729.40" stroke="#333" stroke-width="1.0" stroke-linecap="butt"/>
<line x1="454.20" y1="761.40" x2="461.00" y2="761.40" stroke="#333" stroke-width="1.0" stroke-linecap="butt"/>
<rect x="455.40" y="761.40" width="6.60" height="7.80" fill="#000"/>
<rect x="462.00" y="764.90" width="70.80" height="5.20" fill="#fff"/>
<line x1="462.00" y1="765.50" x2="532.80" y2="765.50" stroke="#7a7a7a" stroke-width="1.0" stroke-linecap="butt"/>
<line x1="462.00" y1="767.50" x2="532.80" y2="767.50" stroke="#7a7a7a" stroke-width="1.0" stroke-linecap="butt"/>
<line x1="462.00" y1="769.50" x2="532.80" y2="769.50" stroke="#7a7a7a" stroke-width="1.0" stroke-linecap="butt"/>
<line x1="462.00" y1="763.60" x2="462.00" y2="771.40" stroke="#333" stroke-width="1.0" stroke-linecap="butt"/>
<line x1="532.80" y1="763.60" x2="532.80" y2="771.40" stroke="#333" stroke-width="1.0" stroke-linecap="butt"/>
<line x1="485.30" y1="763.60" x2="485.30" y2="771.40" stroke="#333" stroke-width="1.0" stroke-linecap="butt"/>
<line x1="509.60" y1="763.60" x2="509.60" y2="771.40" stroke="#333" stroke-width="1.0" stroke-linecap="butt"/>
<rect x="532.80" y="764.70" width="24.30" height="5.60" fill="#000"/>
<line x1="557.00" y1="626.30" x2="628.00" y2="626.30" stroke="#000" stroke-width="2.3" stroke-linecap="butt"/>
<path d="M628.00,627.00 A26.50,26.50 0 0 0 654.50,653.50" stroke="#222" stroke-width="0.95" fill="none" />
<path d="M654.8,653.2 L654.8,626.8 L664.2,626.8 L664.2,653.2" stroke="#000" stroke-width="2.0" fill="none" />
<line x1="659.70" y1="627.00" x2="659.70" y2="766.50" stroke="#000" stroke-width="2.0" stroke-linecap="butt"/>
<path d="M691.50,626.50 A27.00,27.00 0 0 1 664.50,652.90" stroke="#222" stroke-width="0.95" fill="none" />
<line x1="557.00" y1="765.90" x2="575.00" y2="765.90" stroke="#000" stroke-width="2.0" stroke-linecap="butt"/>
<path d="M575,766 L598,766 M592.5,762 L598,766 L592.5,770" stroke="#222" stroke-width="1.0" fill="none" />
<path d="M626.7,766 L603.5,766 M609,762 L603.5,766 L609,770" stroke="#222" stroke-width="1.0" fill="none" />
<line x1="626.70" y1="765.90" x2="661.00" y2="765.90" stroke="#000" stroke-width="2.0" stroke-linecap="butt"/>
<line x1="692.00" y1="626.50" x2="791.00" y2="626.50" stroke="#000" stroke-width="1.9" stroke-linecap="butt"/>
<path d="M688.6,522 L688.6,542.7 L765.9,542.7 L765.9,625.5" stroke="#555" stroke-width="0.9" fill="none" />
<path d="M632.3,522 L632.3,527 L661.6,527 L661.6,522" stroke="#333" stroke-width="0.9" fill="none" />
<line x1="664.00" y1="522.00" x2="664.00" y2="543.50" stroke="#000" stroke-width="2.0" stroke-linecap="butt"/>
<rect x="696.20" y="525.50" width="55.70" height="14.80" fill="#fff" stroke="#333" stroke-width="0.9" rx="3.5"/>
<line x1="699.90" y1="527.80" x2="708.00" y2="527.80" stroke="#666" stroke-width="0.7" stroke-linecap="butt"/>
<line x1="699.90" y1="529.65" x2="708.00" y2="529.65" stroke="#666" stroke-width="0.7" stroke-linecap="butt"/>
<line x1="699.90" y1="531.50" x2="708.00" y2="531.50" stroke="#666" stroke-width="0.7" stroke-linecap="butt"/>
<line x1="699.90" y1="533.35" x2="708.00" y2="533.35" stroke="#666" stroke-width="0.7" stroke-linecap="butt"/>
<line x1="699.90" y1="535.20" x2="708.00" y2="535.20" stroke="#666" stroke-width="0.7" stroke-linecap="butt"/>
<line x1="699.90" y1="537.05" x2="708.00" y2="537.05" stroke="#666" stroke-width="0.7" stroke-linecap="butt"/>
<line x1="739.50" y1="527.80" x2="749.40" y2="527.80" stroke="#666" stroke-width="0.7" stroke-linecap="butt"/>
<line x1="739.50" y1="529.65" x2="749.40" y2="529.65" stroke="#666" stroke-width="0.7" stroke-linecap="butt"/>
<line x1="739.50" y1="531.50" x2="749.40" y2="531.50" stroke="#666" stroke-width="0.7" stroke-linecap="butt"/>
<line x1="739.50" y1="533.35" x2="749.40" y2="533.35" stroke="#666" stroke-width="0.7" stroke-linecap="butt"/>
<line x1="739.50" y1="535.20" x2="749.40" y2="535.20" stroke="#666" stroke-width="0.7" stroke-linecap="butt"/>
<line x1="739.50" y1="537.05" x2="749.40" y2="537.05" stroke="#666" stroke-width="0.7" stroke-linecap="butt"/>
<rect x="710.40" y="527.30" width="11.80" height="10.50" fill="#fff" stroke="#333" stroke-width="0.9" rx="2"/>
<rect x="725.30" y="527.30" width="11.70" height="10.50" fill="#fff" stroke="#333" stroke-width="0.9" rx="2"/>
<rect x="769.60" y="566.50" width="17.20" height="17.70" fill="#fff" stroke="#333" stroke-width="0.9" rx="1.5"/>
<circle cx="774.2" cy="571.1" r="2.9" fill="none" stroke="#333" stroke-width="0.8"/>
<circle cx="774.2" cy="579.6" r="2.9" fill="none" stroke="#333" stroke-width="0.8"/>
<circle cx="782.1" cy="571.1" r="2.9" fill="none" stroke="#333" stroke-width="0.8"/>
<circle cx="782.1" cy="579.6" r="2.9" fill="none" stroke="#333" stroke-width="0.8"/>
<line x1="693.80" y1="626.00" x2="693.80" y2="666.20" stroke="#000" stroke-width="2.4" stroke-linecap="butt"/>
<path d="M695.00,666.20 A26.50,26.50 0 0 1 720.50,693.00" stroke="#222" stroke-width="0.95" fill="none" />
<path d="M720.5,693.1 L693.4,693.1 L693.4,700.8 L791,700.8" stroke="#000" stroke-width="1.9" fill="none" />
<line x1="768.20" y1="693.10" x2="791.00" y2="693.10" stroke="#000" stroke-width="1.9" stroke-linecap="butt"/>
<path d="M768.20,693.00 A26.00,26.00 0 0 1 791.80,665.60" stroke="#222" stroke-width="0.95" fill="none" />
<rect x="746.70" y="627.20" width="43.80" height="16.40" fill="none" stroke="#333" stroke-width="0.9" rx="0"/>
<rect x="749.10" y="629.50" width="18.80" height="12.00" fill="none" stroke="#333" stroke-width="0.9" rx="0"/>
<rect x="770.60" y="629.50" width="18.00" height="12.00" fill="none" stroke="#333" stroke-width="0.9" rx="0"/>
<path d="M796,653.4 L819.4,653.4 L819.4,701.3 L796,701.3" stroke="#444" stroke-width="1.0" fill="none" />
<line x1="796.00" y1="661.30" x2="819.40" y2="661.30" stroke="#444" stroke-width="1.0" stroke-linecap="butt"/>
<line x1="797.00" y1="668.40" x2="819.40" y2="668.40" stroke="#444" stroke-width="1.0" stroke-linecap="butt"/>
<path d="M806.4,655 L806.4,666.5 M802.3,662.8 L806.4,666.5 L810.5,662.8" stroke="#222" stroke-width="0.9" fill="none" />
<path d="M730,700.8 L730,704.4 L757,704.4" stroke="#000" stroke-width="1.9" fill="none" />
<path d="M757.00,704.40 A26.50,26.50 0 0 1 730.80,730.60" stroke="#222" stroke-width="0.95" fill="none" />
<line x1="730.80" y1="729.50" x2="730.80" y2="735.00" stroke="#000" stroke-width="1.9" stroke-linecap="butt"/>
<line x1="724.50" y1="735.10" x2="791.00" y2="735.10" stroke="#000" stroke-width="2.0" stroke-linecap="butt"/>
<ellipse cx="776.8" cy="717.8" rx="7.8" ry="5.7" fill="#fff" stroke="#333" stroke-width="0.9"/>
<ellipse cx="776.3" cy="717.8" rx="5.9" ry="4.0" fill="none" stroke="#444" stroke-width="0.8"/>
<line x1="784.60" y1="717.80" x2="786.60" y2="717.80" stroke="#fff" stroke-width="3.0" stroke-linecap="butt"/>
<rect x="786.40" y="710.20" width="4.30" height="15.30" fill="#fff" stroke="#333" stroke-width="0.9" rx="1.4"/>
<rect x="787.60" y="715.20" width="1.40" height="5.60" fill="none" stroke="#555" stroke-width="0.7" rx="0"/>
<line x1="788.30" y1="715.50" x2="788.30" y2="720.50" stroke="#888" stroke-width="0.8" stroke-linecap="butt"/>
<path d="M693.5,961.7 L693.5,945.4 L720.5,945.4" stroke="#000" stroke-width="1.9" fill="none" />
<path d="M693.50,919.00 A26.50,26.50 0 0 1 720.50,945.40" stroke="#222" stroke-width="0.95" fill="none" />
<path d="M693.5,919 L693.5,734.4 L698.2,734.4 L698.2,761.7" stroke="#000" stroke-width="2.0" fill="none" />
<path d="M724.50,735.40 A26.50,26.50 0 0 1 698.20,761.70" stroke="#222" stroke-width="0.95" fill="none" />
<rect x="772.20" y="745.00" width="18.80" height="30.20" fill="none" stroke="#333" stroke-width="0.9" rx="0"/>
<ellipse cx="782.2" cy="760" rx="5.6" ry="8.8" fill="none" stroke="#333" stroke-width="0.9"/>
<rect x="695.00" y="782.30" width="28.70" height="29.50" fill="none" stroke="#333" stroke-width="0.9" rx="0"/>
<line x1="695.00" y1="782.30" x2="723.70" y2="811.80" stroke="#333" stroke-width="0.7" stroke-linecap="butt"/>
<line x1="723.70" y1="782.30" x2="695.00" y2="811.80" stroke="#333" stroke-width="0.7" stroke-linecap="butt"/>
<line x1="723.70" y1="782.00" x2="723.70" y2="812.30" stroke="#000" stroke-width="1.8" stroke-linecap="butt"/>
<rect x="723.70" y="784.00" width="67.30" height="28.30" fill="none" stroke="#333" stroke-width="0.9" rx="0"/>
<rect x="728.40" y="787.90" width="60.20" height="21.50" fill="none" stroke="#333" stroke-width="0.9" rx="10"/>
<circle cx="777.5" cy="798.5" r="0.7" fill="#333"/>
<line x1="693.00" y1="813.40" x2="791.00" y2="813.40" stroke="#000" stroke-width="2.0" stroke-linecap="butt"/>
<line x1="692.00" y1="961.70" x2="792.70" y2="961.70" stroke="#000" stroke-width="2.0" stroke-linecap="butt"/>
<text x="386.90" y="168.60" font-size="23.69" letter-spacing="2.84" textLength="61.86" lengthAdjust="spacingAndGlyphs">DRIVEWAY</text>
<text x="647.00" y="161.80" font-size="22.97" letter-spacing="2.76" textLength="46.58" lengthAdjust="spacingAndGlyphs">GARAGE</text>
<text x="637.00" y="182.30" font-size="17.88" letter-spacing="2.15" textLength="67.04" lengthAdjust="spacingAndGlyphs">9.3m x 4.4m</text>
<text x="342.10" y="579.50" font-size="23.11" letter-spacing="2.77" textLength="81.45" lengthAdjust="spacingAndGlyphs">UNDERCOVER</text>
<text x="340.30" y="604.60" font-size="22.97" letter-spacing="2.76" textLength="85.13" lengthAdjust="spacingAndGlyphs">ENTERTAINING</text>
<text x="366.80" y="629.10" font-size="21.95" letter-spacing="2.63" textLength="31.01" lengthAdjust="spacingAndGlyphs">AREA</text>
<text x="475.70" y="575.80" font-size="22.53" letter-spacing="2.70" textLength="60.34" lengthAdjust="spacingAndGlyphs">U/C AREA</text>
<text x="591.20" y="571.50" font-size="22.53" letter-spacing="2.70" textLength="43.08" lengthAdjust="spacingAndGlyphs">DINING</text>
<text x="579.00" y="592.30" font-size="18.75" letter-spacing="2.25" textLength="66.94" lengthAdjust="spacingAndGlyphs">3.0m x 3.0m</text>
<text x="638.50" y="539.70" font-size="15.26" letter-spacing="1.83" textLength="17.91" lengthAdjust="spacingAndGlyphs">A/C</text>
<text x="672.70" y="537.20" font-size="17.01" letter-spacing="2.04" textLength="5.74" lengthAdjust="spacingAndGlyphs">F</text>
<text x="690.40" y="581.00" font-size="23.26" letter-spacing="2.79" textLength="50.01" lengthAdjust="spacingAndGlyphs">KITCHEN</text>
<text x="681.60" y="601.70" font-size="18.60" letter-spacing="2.23" textLength="67.35" lengthAdjust="spacingAndGlyphs">3.5m x 3.0m</text>
<text x="727.60" y="677.60" font-size="23.84" letter-spacing="2.86" textLength="32.90" lengthAdjust="spacingAndGlyphs">L&#8217;DRY</text>
<text x="731.30" y="767.00" font-size="23.11" letter-spacing="2.77" textLength="30.02" lengthAdjust="spacingAndGlyphs">BATH</text>
<text x="535.70" y="693.20" font-size="23.40" letter-spacing="2.81" textLength="47.82" lengthAdjust="spacingAndGlyphs">LOUNGE</text>
<text x="526.80" y="714.20" font-size="18.02" letter-spacing="2.16" textLength="66.74" lengthAdjust="spacingAndGlyphs">5.8m x 4.0m</text>
<text x="468.70" y="701.30" font-size="15.26" letter-spacing="1.83" textLength="4.96" lengthAdjust="spacingAndGlyphs">H</text>
<text x="592.50" y="799.30" font-size="22.82" letter-spacing="2.74" textLength="36.78" lengthAdjust="spacingAndGlyphs">ENTRY</text>
<text x="477.50" y="828.80" font-size="22.97" letter-spacing="2.76" textLength="40.51" lengthAdjust="spacingAndGlyphs">PORCH</text>
<text x="563.70" y="834.30" font-size="18.60" letter-spacing="2.23" textLength="16.12" lengthAdjust="spacingAndGlyphs">BIR</text>
<text x="626.90" y="834.30" font-size="18.60" letter-spacing="2.23" textLength="6.43" lengthAdjust="spacingAndGlyphs">C</text>
<text x="570.60" y="894.80" font-size="21.95" letter-spacing="2.63" textLength="61.48" lengthAdjust="spacingAndGlyphs">BEDROOM</text>
<text x="567.60" y="915.50" font-size="20.35" letter-spacing="2.44" textLength="67.25" lengthAdjust="spacingAndGlyphs">3.4m x 3.3m</text>
<text x="712.40" y="880.00" font-size="23.69" letter-spacing="2.84" textLength="62.09" lengthAdjust="spacingAndGlyphs">BEDROOM</text>
<text x="710.30" y="901.00" font-size="21.08" letter-spacing="2.53" textLength="66.74" lengthAdjust="spacingAndGlyphs">2.6m x 4.2m</text>
<text x="686.90" y="1028.10" font-size="23.26" letter-spacing="2.79" textLength="61.79" lengthAdjust="spacingAndGlyphs">BEDROOM</text>
<text x="684.60" y="1048.30" font-size="18.46" letter-spacing="2.22" textLength="67.04" lengthAdjust="spacingAndGlyphs">4.1m x 3.6m</text>
<text transform="translate(291.6,536) rotate(-90)" x="0" y="0" font-size="23.98" letter-spacing="2.88" textLength="101.93" lengthAdjust="spacingAndGlyphs">RODINGS STREET</text>
<circle cx="336.9" cy="1237" r="22.6" fill="#fff" stroke="#000" stroke-width="1.1"/>
<path d="M325.2,1222.1 L330.8,1222.1 L346,1244 L346,1222.1 L350.7,1222.1 L350.7,1252.7 L345.3,1252.7 L329.8,1230 L329.8,1252.7 L325.2,1252.7 Z" fill="#fff" stroke="#000" stroke-width="1.0" stroke-linejoin="miter"/>
<path d="M314.2,1202.2 L320.4,1200.5 L330.5,1207.3 L337.9,1196.3 L343.9,1195.4 L332.3,1213.5 Z" fill="#000"/>
<path d="M323.1,1258.9 A26.2,26.2 0 0 0 360.8,1250.3 L346,1274 Z" fill="#000"/>
</svg></body></html>
